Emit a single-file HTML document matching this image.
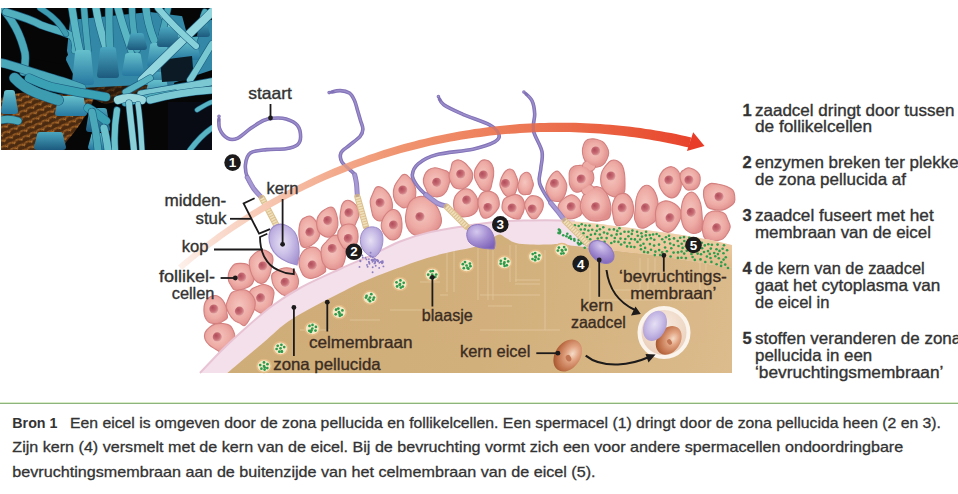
<!DOCTYPE html>
<html><head><meta charset="utf-8"><style>
html,body{margin:0;padding:0;background:#fff;}
body{width:958px;height:494px;position:relative;overflow:hidden;font-family:"Liberation Sans",sans-serif;}
</style></head><body>
<svg width="211" height="142" viewBox="1 8 211 142" style="position:absolute;left:1px;top:8px">
<defs><linearGradient id="hd" x1="0" y1="0" x2="0" y2="1"><stop offset="0" stop-color="#66c0cc"/><stop offset="1" stop-color="#2678a0"/></linearGradient><linearGradient id="hd2" x1="0" y1="0" x2="0" y2="1"><stop offset="0" stop-color="#4aa6be"/><stop offset="1" stop-color="#1c5a7e"/></linearGradient><pattern id="brtex" width="8" height="6" patternUnits="userSpaceOnUse" patternTransform="rotate(-25)"><rect width="8" height="6" fill="#4a2a10"/><path d="M0,4.5 C2,1.5 5,1.5 8,3.5" stroke="#b8742e" stroke-width="1.5" fill="none"/><path d="M0,1.5 C3,3 5,3.5 8,1" stroke="#7a4418" stroke-width="1" fill="none"/></pattern></defs>
<rect x="1" y="8" width="211" height="142" fill="#060606"/>
<path d="M80,84 C100,80 130,78 160,76 C175,78 178,86 170,92 C150,98 125,100 105,104 C95,100 85,96 80,84 Z" fill="url(#brtex)" opacity="0.5"/>
<path d="M1,98 C15,92 35,90 55,94 C70,96 85,94 95,96 C90,110 80,125 72,135 C66,142 63,146 62,150 L1,150 Z" fill="url(#brtex)"/>
<rect x="168" y="102" width="44" height="48" fill="#080b14"/>
<path d="M70,20 L150,12 L212,20 L212,70 L170,84 L120,86 L80,88 L66,60 Z" fill="#3288a6"/>
<path d="M22,20 L60,24 L68,55 L60,64 L30,58 Z" fill="#060606"/>
<path d="M3,9 C12,20 20,32 25,53 C26,60 25,66 23.5,72" fill="none" stroke-linecap="round" stroke="#1d5f80" stroke-width="8.2"/>
<path d="M3,9 C12,20 20,32 25,53 C26,60 25,66 23.5,72" fill="none" stroke-linecap="round" stroke="#4aa8b8" stroke-width="7"/>
<path d="M6,12 C20,16 32,20 41,25 C55,30 68,33 72,36 C76,40 76,45 75,50" fill="none" stroke-linecap="round" stroke="#1d5f80" stroke-width="8.2"/>
<path d="M6,12 C20,16 32,20 41,25 C55,30 68,33 72,36 C76,40 76,45 75,50" fill="none" stroke-linecap="round" stroke="#52b0be" stroke-width="7"/>
<path d="M40,8 C50,14 60,22 66,34" fill="none" stroke-linecap="round" stroke="#1d5f80" stroke-width="6.2"/>
<path d="M40,8 C50,14 60,22 66,34" fill="none" stroke-linecap="round" stroke="#3e9cb0" stroke-width="5"/>
<path d="M72,8 C74,20 76,35 80,52" fill="none" stroke-linecap="round" stroke="#1d5f80" stroke-width="8.2"/>
<path d="M72,8 C74,20 76,35 80,52" fill="none" stroke-linecap="round" stroke="#5ab6c2" stroke-width="7"/>
<path d="M84,8 C85,20 86,32 88,50" fill="none" stroke-linecap="round" stroke="#1d5f80" stroke-width="7.2"/>
<path d="M84,8 C85,20 86,32 88,50" fill="none" stroke-linecap="round" stroke="#4aa8b8" stroke-width="6"/>
<path d="M96,8 C98,22 102,35 106,48" fill="none" stroke-linecap="round" stroke="#1d5f80" stroke-width="8.2"/>
<path d="M96,8 C98,22 102,35 106,48" fill="none" stroke-linecap="round" stroke="#6cc2cc" stroke-width="7"/>
<path d="M109,8 C109,20 109,35 110,48" fill="none" stroke-linecap="round" stroke="#1d5f80" stroke-width="8.2"/>
<path d="M109,8 C109,20 109,35 110,48" fill="none" stroke-linecap="round" stroke="#4aa8b8" stroke-width="7"/>
<path d="M118,8 C121,20 126,35 132,52" fill="none" stroke-linecap="round" stroke="#1d5f80" stroke-width="8.2"/>
<path d="M118,8 C121,20 126,35 132,52" fill="none" stroke-linecap="round" stroke="#5ab6c2" stroke-width="7"/>
<path d="M132,8 C132,20 134,35 137,50" fill="none" stroke-linecap="round" stroke="#1d5f80" stroke-width="7.2"/>
<path d="M132,8 C132,20 134,35 137,50" fill="none" stroke-linecap="round" stroke="#4aa8b8" stroke-width="6"/>
<path d="M146,8 C147,20 150,30 154,40" fill="none" stroke-linecap="round" stroke="#1d5f80" stroke-width="8.2"/>
<path d="M146,8 C147,20 150,30 154,40" fill="none" stroke-linecap="round" stroke="#52b0be" stroke-width="7"/>
<path d="M158,8 C164,18 172,28 180,38" fill="none" stroke-linecap="round" stroke="#1d5f80" stroke-width="7.2"/>
<path d="M158,8 C164,18 172,28 180,38" fill="none" stroke-linecap="round" stroke="#6cc2cc" stroke-width="6"/>
<path d="M205,12 C200,25 196,35 192,45" fill="none" stroke-linecap="round" stroke="#1d5f80" stroke-width="7.2"/>
<path d="M205,12 C200,25 196,35 192,45" fill="none" stroke-linecap="round" stroke="#52b0be" stroke-width="6"/>
<path d="M168,8 C166,18 164,26 162,34" fill="none" stroke-linecap="round" stroke="#1d5f80" stroke-width="7.2"/>
<path d="M168,8 C166,18 164,26 162,34" fill="none" stroke-linecap="round" stroke="#4aa8b8" stroke-width="6"/>
<path d="M75,53 Q75,50 78,50 L88,50 Q91,50 91,53 L94,82 Q94,85 91,85 L75,85 Q72,85 72,82 Z" fill="url(#hd)"/>
<path d="M100,50 Q100,47 103,47 L113,47 Q116,47 116,50 L119,75 Q119,78 116,78 L100,78 Q97,78 97,75 Z" fill="url(#hd2)"/>
<path d="M125,56 Q125,53 128,53 L138,53 Q141,53 141,56 L144,73 Q144,76 141,76 L125,76 Q122,76 122,73 Z" fill="url(#hd)"/>
<path d="M130,36 Q130,33 133,33 L141,33 Q144,33 144,36 L147,47 Q147,50 144,50 L130,50 Q127,50 127,47 Z" fill="url(#hd2)"/>
<path d="M150,46 Q150,43 153,43 L164,43 Q167,43 167,46 L170,64 Q170,67 167,67 L150,67 Q147,67 147,64 Z" fill="url(#hd)"/>
<path d="M160,30 Q160,27 163,27 L174,27 Q177,27 177,30 L180,44 Q180,47 177,47 L160,47 Q157,47 157,44 Z" fill="url(#hd2)"/>
<path d="M176,43 Q176,40 179,40 L194,40 Q197,40 197,43 L200,57 Q200,60 197,60 L176,60 Q173,60 173,57 Z" fill="url(#hd)"/>
<path d="M190,23 Q190,20 193,20 L204,20 Q207,20 207,23 L210,34 Q210,37 207,37 L190,37 Q187,37 187,34 Z" fill="url(#hd2)"/>
<path d="M58,99 Q58,96 61,96 L81,96 Q84,96 84,99 L87,113 Q87,116 84,116 L58,116 Q55,116 55,113 Z" fill="url(#hd)"/>
<path d="M37,135 Q37,132 40,132 L60,132 Q63,132 63,135 L66,147 Q66,150 63,150 L37,150 Q34,150 34,147 Z" fill="url(#hd2)"/>
<path d="M4,93 Q4,90 7,90 L12,90 Q15,90 15,93 L18,111 Q18,114 15,114 L4,114 Q1,114 1,111 Z" fill="url(#hd)"/>
<path d="M153,75 Q153,72 156,72 L169,72 Q172,72 172,75 L175,87 Q175,90 172,90 L153,90 Q150,90 150,87 Z" fill="url(#hd2)"/>
<path d="M91,136 Q91,133 94,133 L100,133 Q103,133 103,136 L106,147 Q106,150 103,150 L91,150 Q88,150 88,147 Z" fill="url(#hd)"/>
<path d="M89,111 Q89,108 92,108 L104,108 Q107,108 107,111 L110,129 Q110,132 107,132 L89,132 Q86,132 86,129 Z" fill="url(#hd2)"/>
<path d="M148,83 Q148,80 151,80 L164,80 Q167,80 167,83 L170,97 Q170,100 167,100 L148,100 Q145,100 145,97 Z" fill="url(#hd)"/>
<path d="M180,8 L201,8 L197,36 L188,38 Z" fill="#060606"/>
<path d="M160,60 L192,56 L194,80 L162,82 Z" fill="#0c1a26"/>
<path d="M1,62.8 C12,65 25,70 31.4,72 C45,76 56,80 62.8,81.6 C70,84 76,86 81.6,88" fill="none" stroke-linecap="round" stroke="#1d5f80" stroke-width="9.2"/>
<path d="M1,62.8 C12,65 25,70 31.4,72 C45,76 56,80 62.8,81.6 C70,84 76,86 81.6,88" fill="none" stroke-linecap="round" stroke="#4aa8b8" stroke-width="8"/>
<path d="M14.6,78 C22,86 30,90 36.5,92.6 C45,96 52,98 58.3,100" fill="none" stroke-linecap="round" stroke="#1d5f80" stroke-width="11.2"/>
<path d="M14.6,78 C22,86 30,90 36.5,92.6 C45,96 52,98 58.3,100" fill="none" stroke-linecap="round" stroke="#3e9cb0" stroke-width="10"/>
<path d="M29,78 C38,82 45,85 51,86.7 C62,89 72,91 80,92.6 C90,94 98,95.5 106,97" fill="none" stroke-linecap="round" stroke="#1d5f80" stroke-width="9.2"/>
<path d="M29,78 C38,82 45,85 51,86.7 C62,89 72,91 80,92.6 C90,94 98,95.5 106,97" fill="none" stroke-linecap="round" stroke="#3aa0b4" stroke-width="8"/>
<path d="M88,108 C95,112 100,116 106,121" fill="none" stroke-linecap="round" stroke="#1d5f80" stroke-width="9.2"/>
<path d="M88,108 C95,112 100,116 106,121" fill="none" stroke-linecap="round" stroke="#3aa0b4" stroke-width="8"/>
<path d="M142,80 C160,62 185,38 212,12" fill="none" stroke-linecap="round" stroke="#1d5f80" stroke-width="9.2"/>
<path d="M142,80 C160,62 185,38 212,12" fill="none" stroke-linecap="round" stroke="#94d6de" stroke-width="8"/>
<path d="M158,8 C168,20 180,32 196,46" fill="none" stroke-linecap="round" stroke="#1d5f80" stroke-width="7.2"/>
<path d="M158,8 C168,20 180,32 196,46" fill="none" stroke-linecap="round" stroke="#86d0da" stroke-width="6"/>
<path d="M212,44 C205,55 198,68 190,80" fill="none" stroke-linecap="round" stroke="#1d5f80" stroke-width="7.2"/>
<path d="M212,44 C205,55 198,68 190,80" fill="none" stroke-linecap="round" stroke="#78c8d2" stroke-width="6"/>
<path d="M150,78 C140,84 132,88 125.6,92" fill="none" stroke-linecap="round" stroke="#1d5f80" stroke-width="7.2"/>
<path d="M150,78 C140,84 132,88 125.6,92" fill="none" stroke-linecap="round" stroke="#58b4c2" stroke-width="6"/>
<path d="M141,94 C165,90 190,86 212,81.6" fill="none" stroke-linecap="round" stroke="#1d5f80" stroke-width="8.2"/>
<path d="M141,94 C165,90 190,86 212,81.6" fill="none" stroke-linecap="round" stroke="#7cc8d2" stroke-width="7"/>
<path d="M125,103 C140,99 160,95 175,93" fill="none" stroke-linecap="round" stroke="#1d5f80" stroke-width="7.2"/>
<path d="M125,103 C140,99 160,95 175,93" fill="none" stroke-linecap="round" stroke="#52b0be" stroke-width="6"/>
<path d="M118,100 C125,97 135,97 142,100" fill="none" stroke-linecap="round" stroke="#1d5f80" stroke-width="9.2"/>
<path d="M118,100 C125,97 135,97 142,100" fill="none" stroke-linecap="round" stroke="#9ad8de" stroke-width="8"/>
<path d="M129,103 C130,115 132,130 134,150" fill="none" stroke-linecap="round" stroke="#1d5f80" stroke-width="7.2"/>
<path d="M129,103 C130,115 132,130 134,150" fill="none" stroke-linecap="round" stroke="#8ad0d8" stroke-width="6"/>
<path d="M138,104 C140,118 141,132 142,150" fill="none" stroke-linecap="round" stroke="#1d5f80" stroke-width="6.2"/>
<path d="M138,104 C140,118 141,132 142,150" fill="none" stroke-linecap="round" stroke="#8ad0d8" stroke-width="5"/>
<path d="M117,110 C115,122 114,136 115,150" fill="none" stroke-linecap="round" stroke="#1d5f80" stroke-width="7.2"/>
<path d="M117,110 C115,122 114,136 115,150" fill="none" stroke-linecap="round" stroke="#6cc2cc" stroke-width="6"/>
<path d="M1,120 C6,119 12,119 18,121" fill="none" stroke-linecap="round" stroke="#1d5f80" stroke-width="8.2"/>
<path d="M1,120 C6,119 12,119 18,121" fill="none" stroke-linecap="round" stroke="#4aa8b8" stroke-width="7"/>
<path d="M92,112 C95,125 97,138 98,150" fill="none" stroke-linecap="round" stroke="#1d5f80" stroke-width="8.2"/>
<path d="M92,112 C95,125 97,138 98,150" fill="none" stroke-linecap="round" stroke="#4aa8b8" stroke-width="7"/>
<path d="M104,128 C106,136 107,143 108,150" fill="none" stroke-linecap="round" stroke="#1d5f80" stroke-width="8.2"/>
<path d="M104,128 C106,136 107,143 108,150" fill="none" stroke-linecap="round" stroke="#6cc2cc" stroke-width="7"/>
<path d="M150,100 C165,96 185,92 212,90" fill="none" stroke-linecap="round" stroke="#1d5f80" stroke-width="8.2"/>
<path d="M150,100 C165,96 185,92 212,90" fill="none" stroke-linecap="round" stroke="#7cc8d2" stroke-width="7"/>
<path d="M190,150 C196,142 203,134 212,128" fill="none" stroke-linecap="round" stroke="#1d5f80" stroke-width="6.2"/>
<path d="M190,150 C196,142 203,134 212,128" fill="none" stroke-linecap="round" stroke="#58b4c2" stroke-width="5"/>
<path d="M197,110 C202,107 206,104 212,102" fill="none" stroke-linecap="round" stroke="#1d5f80" stroke-width="5.2"/>
<path d="M197,110 C202,107 206,104 212,102" fill="none" stroke-linecap="round" stroke="#58b4c2" stroke-width="4"/>
</svg>
<svg width="958" height="494" viewBox="0 0 958 494" style="position:absolute;left:0;top:0" font-family="Liberation Sans, sans-serif">
<defs>
<radialGradient id="cellg" cx="0.45" cy="0.45" r="0.6"><stop offset="0" stop-color="#f5c6bf"/><stop offset="0.6" stop-color="#eeaba5"/><stop offset="1" stop-color="#df8e8c"/></radialGradient>
<radialGradient id="nucg" cx="0.4" cy="0.4" r="0.7" fx="0.35" fy="0.35"><stop offset="0" stop-color="#b04c5c"/><stop offset="0.55" stop-color="#c86c74"/><stop offset="0.85" stop-color="#dc9a9a"/><stop offset="1" stop-color="#f0c0bc"/></radialGradient>
<linearGradient id="arrowg" x1="180" y1="0" x2="700" y2="0" gradientUnits="userSpaceOnUse"><stop offset="0" stop-color="#fdf0ea"/><stop offset="0.07" stop-color="#fadccf"/><stop offset="0.2" stop-color="#f6c0a8"/><stop offset="0.3" stop-color="#f3aa8c"/><stop offset="0.42" stop-color="#f09470"/><stop offset="0.58" stop-color="#ee825e"/><stop offset="0.75" stop-color="#eb6c4a"/><stop offset="0.88" stop-color="#e95638"/><stop offset="1" stop-color="#e8402a"/></linearGradient>
<linearGradient id="eggg" x1="250" y1="260" x2="730" y2="373" gradientUnits="userSpaceOnUse"><stop offset="0" stop-color="#cfad78"/><stop offset="0.5" stop-color="#d2b07c"/><stop offset="1" stop-color="#dcbb8c"/></linearGradient>
<radialGradient id="disc" cx="0.62" cy="0.62" r="0.65"><stop offset="0" stop-color="#f6dcc8"/><stop offset="0.35" stop-color="#e2a584"/><stop offset="0.8" stop-color="#c0714a"/><stop offset="1" stop-color="#a85a34"/></radialGradient>
<radialGradient id="fusg" cx="0.5" cy="0.35" r="0.7"><stop offset="0" stop-color="#f8ebe0"/><stop offset="1" stop-color="#e8cbb4"/></radialGradient>
<linearGradient id="bmg" x1="0" y1="220" x2="0" y2="268" gradientUnits="userSpaceOnUse"><stop offset="0" stop-color="#f2d6b2"/><stop offset="0.6" stop-color="#ebc89c"/><stop offset="1" stop-color="#ddbb8b"/></linearGradient>
<radialGradient id="headg" cx="0.45" cy="0.45" r="0.65"><stop offset="0" stop-color="#e6e0f4"/><stop offset="0.5" stop-color="#c8bce6"/><stop offset="1" stop-color="#a492d0"/></radialGradient>
<radialGradient id="headg2" cx="0.35" cy="0.3" r="0.8"><stop offset="0" stop-color="#d4c8ee"/><stop offset="0.5" stop-color="#a58fd2"/><stop offset="1" stop-color="#7d62b8"/></radialGradient>
<radialGradient id="eikern" cx="0.55" cy="0.55" r="0.6"><stop offset="0" stop-color="#f3c6a8"/><stop offset="0.35" stop-color="#d99370"/><stop offset="1" stop-color="#a8532e"/></radialGradient>
</defs>
<path d="M234.3,289.8 C232.9,289.0 232.3,287.5 231.3,285.9 C230.3,284.3 229.2,282.9 228.6,280.8 C228.1,278.7 228.0,276.5 228.4,274.3 C228.8,272.0 229.6,270.4 230.7,268.6 C231.9,266.7 233.0,265.0 234.8,264.1 C236.7,263.2 238.7,263.4 240.9,263.4 C243.1,263.4 245.2,263.4 247.1,264.3 C249.0,265.3 250.3,266.9 251.5,268.6 C252.8,270.4 253.6,272.0 254.0,274.0 C254.4,276.1 254.5,277.9 253.9,280.0 C253.3,282.1 252.4,284.0 250.7,285.5 C249.1,287.0 246.8,287.6 244.7,288.4 C242.6,289.2 241.0,289.7 239.1,290.0 C237.3,290.3 235.7,290.5 234.3,289.8Z" fill="url(#cellg)" stroke="#d3807f" stroke-width="1.1"/>
<path d="M272.0,255.0 C272.7,256.4 273.1,257.8 273.0,260.0 C272.9,262.2 272.1,264.5 271.5,267.3 C270.9,270.0 270.6,272.7 269.6,275.2 C268.5,277.8 267.4,280.0 265.8,281.5 C264.2,283.0 262.4,283.6 260.6,283.4 C258.7,283.2 257.0,282.2 255.5,280.6 C253.9,279.1 253.0,277.1 251.9,274.8 C250.9,272.5 250.2,270.4 249.8,267.7 C249.3,265.0 248.9,262.2 249.6,259.8 C250.3,257.4 252.0,255.9 253.6,254.4 C255.2,252.8 256.5,251.9 258.4,251.1 C260.3,250.3 262.3,249.8 264.2,250.0 C266.1,250.2 267.5,251.4 268.9,252.3 C270.3,253.2 271.3,253.6 272.0,255.0Z" fill="url(#cellg)" stroke="#d3807f" stroke-width="1.1"/>
<path d="M272.0,274.2 C272.6,272.9 273.9,272.5 275.4,271.6 C276.9,270.7 278.2,269.7 280.3,269.0 C282.4,268.3 284.6,267.7 286.9,267.8 C289.2,267.9 291.4,268.3 293.2,269.5 C294.9,270.7 295.6,272.6 296.6,274.6 C297.5,276.6 298.5,278.4 298.6,280.7 C298.7,282.9 298.2,285.1 297.2,287.2 C296.3,289.3 295.0,290.7 293.3,292.3 C291.7,293.8 290.1,295.3 288.1,295.7 C286.0,296.1 284.1,295.4 282.1,294.5 C280.1,293.5 278.8,292.1 277.2,290.4 C275.6,288.6 274.1,286.7 273.2,284.6 C272.2,282.5 272.0,280.6 271.8,278.7 C271.6,276.8 271.3,275.5 272.0,274.2Z" fill="url(#cellg)" stroke="#d3807f" stroke-width="1.1"/>
<path d="M272.1,288.2 C273.1,289.4 273.8,290.5 274.0,292.4 C274.2,294.4 273.5,296.4 273.1,298.8 C272.6,301.1 272.4,303.4 271.4,305.5 C270.5,307.7 269.3,309.4 267.6,310.8 C265.9,312.2 264.2,313.5 262.2,313.5 C260.2,313.5 258.5,312.1 256.7,311.0 C254.9,309.9 253.5,308.9 252.2,307.2 C250.8,305.5 249.9,303.8 249.2,301.7 C248.6,299.5 248.1,297.3 248.5,295.1 C248.9,292.8 249.8,290.8 251.3,289.3 C252.9,287.7 254.9,287.4 257.0,286.5 C259.2,285.7 261.0,284.6 263.1,284.5 C265.2,284.4 266.9,285.1 268.5,285.8 C270.1,286.5 271.1,287.0 272.1,288.2Z" fill="url(#cellg)" stroke="#d3807f" stroke-width="1.1"/>
<path d="M243.8,325.7 C242.4,325.8 241.4,324.1 239.7,323.1 C238.0,322.1 236.1,322.0 234.2,320.3 C232.2,318.6 230.4,316.3 229.0,313.8 C227.5,311.2 226.3,308.8 226.2,306.2 C226.1,303.5 227.2,301.7 228.2,299.2 C229.2,296.8 229.9,294.1 231.8,292.5 C233.6,290.9 236.1,290.7 238.6,290.2 C241.1,289.8 243.4,289.3 245.7,290.0 C248.0,290.7 249.9,292.4 251.6,294.4 C253.2,296.3 254.5,298.2 255.0,300.8 C255.5,303.5 255.2,306.3 254.4,309.1 C253.7,312.0 252.1,314.2 250.9,316.7 C249.6,319.1 248.6,321.1 247.3,322.8 C246.1,324.4 245.2,325.6 243.8,325.7Z" fill="url(#cellg)" stroke="#d3807f" stroke-width="1.1"/>
<path d="M227.3,317.8 C226.8,319.2 225.5,319.6 224.1,320.5 C222.7,321.4 221.5,322.4 219.7,323.0 C217.8,323.5 216.0,323.7 214.0,323.5 C212.0,323.3 210.2,323.2 208.6,322.1 C206.9,320.9 205.8,319.2 205.0,317.1 C204.2,315.0 203.9,312.8 203.9,310.3 C203.9,307.9 203.9,305.5 204.8,303.3 C205.6,301.1 206.9,299.4 208.5,298.0 C210.1,296.6 211.7,296.0 213.5,295.7 C215.3,295.4 216.8,295.5 218.5,296.4 C220.2,297.2 221.6,298.5 222.9,300.4 C224.3,302.2 225.3,304.5 226.0,306.8 C226.7,309.0 226.6,310.9 226.9,312.9 C227.1,314.8 227.8,316.4 227.3,317.8Z" fill="url(#cellg)" stroke="#d3807f" stroke-width="1.1"/>
<path d="M225.6,351.4 C224.1,352.0 223.0,352.8 221.1,352.4 C219.2,352.0 217.4,350.3 215.2,349.0 C213.0,347.6 210.9,346.7 209.1,344.9 C207.2,343.1 205.7,341.4 205.0,339.2 C204.3,337.0 204.2,334.8 205.0,332.7 C205.8,330.6 207.5,329.0 209.4,327.4 C211.3,325.8 213.1,324.6 215.6,323.9 C218.0,323.2 220.3,323.2 222.9,323.5 C225.5,323.8 228.0,324.1 229.9,325.5 C231.8,326.8 232.6,328.8 233.5,331.0 C234.4,333.1 235.1,335.0 235.0,337.4 C234.9,339.7 233.9,342.0 233.0,344.2 C232.0,346.3 230.9,348.0 229.6,349.3 C228.3,350.6 227.2,350.9 225.6,351.4Z" fill="url(#cellg)" stroke="#d3807f" stroke-width="1.1"/>
<path d="M301.2,245.4 C300.5,244.3 300.3,243.2 299.9,241.3 C299.5,239.4 299.0,237.6 298.9,235.0 C298.8,232.4 298.7,229.6 299.2,226.9 C299.6,224.2 300.3,221.7 301.5,220.0 C302.7,218.2 304.2,217.7 305.8,217.1 C307.4,216.4 309.0,215.7 310.7,216.2 C312.3,216.7 313.7,218.1 315.0,219.8 C316.3,221.5 317.0,223.3 317.9,225.5 C318.8,227.8 320.0,229.8 320.0,232.3 C320.0,234.7 319.2,237.1 318.1,239.1 C316.9,241.2 315.4,242.3 313.7,243.7 C312.1,245.0 310.4,246.1 308.7,246.7 C306.9,247.4 305.3,247.6 304.0,247.4 C302.6,247.2 301.9,246.5 301.2,245.4Z" fill="url(#cellg)" stroke="#d3807f" stroke-width="1.1"/>
<path d="M333.4,207.9 C334.5,208.8 335.1,210.3 335.8,212.1 C336.5,214.0 337.0,215.8 337.4,218.1 C337.8,220.5 338.2,222.9 337.9,225.3 C337.6,227.7 336.8,229.6 335.8,231.4 C334.8,233.3 333.7,234.6 332.2,235.7 C330.7,236.7 329.1,237.4 327.4,237.3 C325.7,237.2 324.2,236.4 322.6,235.3 C321.0,234.2 319.5,233.2 318.4,231.4 C317.4,229.5 316.9,227.3 316.7,225.0 C316.5,222.7 316.6,220.6 317.3,218.5 C317.9,216.4 319.0,214.7 320.4,213.1 C321.7,211.5 323.2,210.6 324.9,209.5 C326.5,208.5 327.9,207.6 329.5,207.3 C331.0,207.0 332.3,207.1 333.4,207.9Z" fill="url(#cellg)" stroke="#d3807f" stroke-width="1.1"/>
<path d="M358.5,210.6 C358.9,212.2 359.3,213.6 359.0,215.5 C358.7,217.4 357.6,219.2 356.6,221.3 C355.7,223.5 355.0,226.0 353.7,227.4 C352.4,228.9 351.1,229.2 349.6,229.5 C348.2,229.8 347.1,229.7 345.7,229.0 C344.3,228.3 342.9,227.5 341.9,225.7 C340.8,223.8 340.2,221.3 340.0,218.7 C339.8,216.2 340.3,213.9 340.6,211.4 C341.0,208.8 341.2,206.6 342.0,204.7 C342.9,202.8 344.0,201.5 345.4,200.8 C346.8,200.0 348.2,200.2 349.7,200.6 C351.2,201.0 352.5,202.1 353.8,203.1 C355.2,204.2 356.3,205.1 357.1,206.5 C358.0,207.9 358.2,209.0 358.5,210.6Z" fill="url(#cellg)" stroke="#d3807f" stroke-width="1.1"/>
<path d="M325.6,271.2 C325.0,272.8 323.4,273.3 321.8,274.4 C320.3,275.4 318.9,276.3 316.9,277.0 C314.8,277.8 312.8,278.6 310.6,278.5 C308.3,278.4 306.2,277.8 304.5,276.4 C302.7,274.9 301.9,272.9 300.9,270.5 C299.8,268.2 299.0,265.9 298.9,263.2 C298.8,260.5 299.4,258.0 300.5,255.6 C301.5,253.2 302.9,251.4 304.6,249.9 C306.3,248.4 308.1,247.8 310.1,247.4 C312.1,247.0 313.8,246.8 315.7,247.6 C317.6,248.4 319.2,249.9 320.6,252.0 C322.0,254.0 322.7,256.6 323.5,259.0 C324.2,261.5 324.6,263.3 325.0,265.5 C325.3,267.7 326.2,269.6 325.6,271.2Z" fill="url(#cellg)" stroke="#d3807f" stroke-width="1.1"/>
<path d="M340.7,235.4 C341.8,236.1 342.4,237.0 343.2,238.8 C344.0,240.7 344.8,242.8 345.3,245.6 C345.7,248.4 345.9,251.3 345.7,254.3 C345.5,257.3 345.1,259.6 344.2,262.1 C343.2,264.7 342.3,267.2 340.5,268.5 C338.8,269.8 336.6,269.6 334.4,269.6 C332.2,269.6 330.3,269.5 328.2,268.4 C326.2,267.2 324.4,265.6 323.1,263.2 C321.8,260.9 321.5,258.2 321.2,255.4 C320.9,252.5 320.7,250.0 321.6,247.5 C322.5,245.1 324.6,243.6 326.4,241.6 C328.2,239.5 329.8,237.4 331.7,236.2 C333.7,235.0 335.5,235.2 337.1,235.1 C338.7,235.0 339.6,234.7 340.7,235.4Z" fill="url(#cellg)" stroke="#d3807f" stroke-width="1.1"/>
<path d="M337.9,232.6 C338.2,231.1 338.8,230.2 339.8,228.9 C340.7,227.6 341.7,226.2 343.2,225.3 C344.7,224.4 346.4,224.1 348.1,224.0 C349.8,223.9 351.2,223.7 352.7,224.5 C354.2,225.2 355.3,226.3 356.3,228.0 C357.2,229.7 357.6,231.6 357.9,233.7 C358.2,235.9 358.2,237.9 357.8,240.0 C357.4,242.1 356.6,243.8 355.6,245.4 C354.6,247.0 353.5,248.2 352.1,248.9 C350.7,249.7 349.4,249.8 347.8,249.6 C346.3,249.4 344.8,249.1 343.3,247.8 C341.9,246.5 341.0,244.4 340.0,242.5 C339.0,240.6 338.3,238.9 337.9,237.1 C337.5,235.3 337.6,234.1 337.9,232.6Z" fill="url(#cellg)" stroke="#d3807f" stroke-width="1.1"/>
<path d="M392.4,207.8 C392.1,209.5 391.6,210.3 390.7,212.0 C389.9,213.7 389.1,215.8 387.6,217.3 C386.2,218.8 384.3,219.8 382.5,220.4 C380.6,221.0 379.0,221.3 377.3,220.6 C375.7,219.9 374.3,218.6 373.2,216.5 C372.1,214.4 371.9,211.9 371.3,209.1 C370.8,206.2 369.9,203.6 370.2,200.8 C370.5,198.0 371.8,195.9 372.9,193.5 C374.0,191.1 374.7,188.4 376.2,187.3 C377.7,186.2 379.4,186.6 381.2,187.2 C382.9,187.8 384.2,188.9 385.8,190.5 C387.4,192.1 388.9,193.9 390.0,196.1 C391.2,198.3 391.8,200.6 392.2,202.7 C392.6,204.8 392.7,206.1 392.4,207.8Z" fill="url(#cellg)" stroke="#d3807f" stroke-width="1.1"/>
<path d="M381.3,227.0 C381.1,225.4 381.2,224.3 381.6,222.4 C382.1,220.5 382.8,218.5 384.0,216.6 C385.2,214.7 386.6,212.9 388.2,211.6 C389.9,210.3 391.3,209.6 393.0,209.5 C394.7,209.4 396.1,209.7 397.5,211.0 C399.0,212.2 400.0,214.1 400.8,216.3 C401.6,218.6 401.9,220.9 402.0,223.6 C402.1,226.2 402.1,228.4 401.5,230.9 C401.0,233.3 400.3,235.4 399.1,237.0 C397.9,238.6 396.5,239.2 394.9,239.6 C393.3,240.0 391.8,240.2 390.1,239.5 C388.5,238.8 387.0,237.2 385.6,235.7 C384.2,234.2 383.3,232.7 382.5,231.1 C381.8,229.5 381.5,228.5 381.3,227.0Z" fill="url(#cellg)" stroke="#d3807f" stroke-width="1.1"/>
<path d="M405.8,174.5 C407.0,174.8 407.7,175.6 408.9,176.9 C410.1,178.1 411.3,179.2 412.5,181.3 C413.7,183.4 415.0,185.8 415.5,188.5 C416.1,191.1 415.9,193.5 415.6,196.1 C415.3,198.8 415.0,201.3 413.8,203.1 C412.6,204.9 410.7,205.2 408.9,206.1 C407.1,207.0 405.6,208.1 403.7,207.9 C401.9,207.7 400.4,206.5 398.7,205.1 C397.1,203.8 395.7,202.5 394.8,200.4 C393.8,198.3 393.3,196.1 393.3,193.5 C393.3,190.9 393.7,188.5 394.6,186.0 C395.6,183.5 397.1,181.8 398.5,179.8 C399.9,177.8 401.0,176.0 402.3,175.0 C403.7,174.1 404.7,174.2 405.8,174.5Z" fill="url(#cellg)" stroke="#d3807f" stroke-width="1.1"/>
<path d="M441.1,223.4 C440.6,225.3 440.2,226.6 438.5,228.2 C436.9,229.8 434.8,231.1 432.2,232.4 C429.6,233.7 427.1,235.0 424.1,235.5 C421.2,236.1 418.6,236.6 415.9,235.7 C413.2,234.8 411.0,233.2 409.1,230.6 C407.3,228.1 406.1,224.9 405.6,221.4 C405.1,217.9 405.6,214.6 406.4,211.0 C407.2,207.5 408.1,204.2 410.1,201.6 C412.0,199.1 414.6,197.8 417.2,197.0 C419.9,196.1 422.1,196.1 424.8,196.8 C427.5,197.5 429.9,198.4 432.4,200.6 C434.8,202.8 436.7,206.1 438.3,209.2 C439.9,212.3 440.7,215.0 441.2,217.6 C441.7,220.1 441.6,221.5 441.1,223.4Z" fill="url(#cellg)" stroke="#d3807f" stroke-width="1.1"/>
<path d="M449.5,174.0 C450.1,175.3 450.2,176.4 450.1,178.3 C450.0,180.2 449.7,182.1 449.0,184.4 C448.3,186.8 447.7,189.4 446.3,191.5 C444.9,193.6 443.2,195.1 441.2,196.1 C439.2,197.0 437.4,197.0 435.3,196.8 C433.2,196.6 431.0,196.4 429.3,194.9 C427.6,193.5 427.0,191.1 426.0,188.8 C424.9,186.5 423.7,184.8 423.4,182.3 C423.1,179.9 423.6,177.5 424.5,175.3 C425.4,173.1 426.6,171.3 428.4,170.0 C430.3,168.6 432.4,167.9 434.8,167.8 C437.1,167.7 439.2,168.7 441.3,169.3 C443.5,169.9 445.2,170.2 446.7,171.0 C448.1,171.8 448.9,172.7 449.5,174.0Z" fill="url(#cellg)" stroke="#d3807f" stroke-width="1.1"/>
<path d="M455.4,160.6 C456.5,160.1 457.4,159.7 458.9,160.0 C460.4,160.3 462.1,161.0 463.8,162.2 C465.6,163.4 467.0,165.0 468.5,166.8 C470.1,168.6 471.5,170.1 472.2,172.2 C472.9,174.3 472.9,176.5 472.4,178.6 C471.9,180.8 470.7,182.4 469.4,184.1 C468.0,185.7 466.7,187.0 464.9,187.9 C463.1,188.8 461.4,189.1 459.4,189.0 C457.5,188.9 455.7,188.4 454.1,187.2 C452.6,186.0 451.7,184.3 450.8,182.3 C449.9,180.3 449.0,178.3 449.0,175.9 C449.0,173.5 450.2,171.4 450.8,169.0 C451.4,166.6 451.5,164.3 452.3,162.8 C453.1,161.3 454.2,161.1 455.4,160.6Z" fill="url(#cellg)" stroke="#d3807f" stroke-width="1.1"/>
<path d="M455.9,214.2 C454.9,213.0 454.8,211.5 454.4,209.6 C454.0,207.7 453.4,206.0 453.5,203.6 C453.6,201.3 454.1,198.9 455.0,196.8 C456.0,194.6 457.3,193.2 458.9,191.8 C460.5,190.4 462.1,189.4 464.0,189.0 C466.0,188.6 468.0,188.7 469.9,189.5 C471.7,190.3 473.2,191.8 474.5,193.5 C475.9,195.2 476.8,196.8 477.4,198.9 C478.0,201.0 478.1,202.9 478.0,205.1 C477.9,207.3 477.8,209.4 476.7,211.2 C475.5,213.1 473.7,214.3 471.7,215.3 C469.6,216.3 467.6,216.6 465.4,216.8 C463.3,217.0 461.5,217.0 459.8,216.6 C458.1,216.1 456.9,215.5 455.9,214.2Z" fill="url(#cellg)" stroke="#d3807f" stroke-width="1.1"/>
<path d="M487.9,191.2 C486.8,191.6 486.0,191.3 484.7,190.8 C483.4,190.4 482.1,190.2 480.8,188.9 C479.4,187.5 478.5,185.6 477.3,183.6 C476.2,181.5 475.1,179.9 474.6,177.5 C474.1,175.2 474.2,172.8 474.7,170.5 C475.3,168.3 476.5,166.9 477.6,165.1 C478.8,163.4 479.7,161.6 481.2,160.7 C482.7,159.8 484.2,159.7 485.8,160.0 C487.4,160.3 488.9,160.7 490.2,162.1 C491.6,163.5 492.6,165.2 493.2,167.6 C493.8,169.9 493.8,172.5 493.6,175.1 C493.4,177.8 492.7,179.8 492.2,182.2 C491.6,184.7 491.4,187.1 490.6,188.7 C489.9,190.3 488.9,190.8 487.9,191.2Z" fill="url(#cellg)" stroke="#d3807f" stroke-width="1.1"/>
<path d="M483.5,217.9 C482.4,217.4 481.8,216.4 481.0,215.0 C480.3,213.5 479.9,211.8 479.3,209.7 C478.8,207.6 478.1,205.7 478.0,203.5 C477.9,201.3 478.2,199.3 478.9,197.4 C479.6,195.4 480.6,193.8 482.1,192.7 C483.5,191.6 485.2,191.3 487.0,191.2 C488.8,191.1 490.4,191.2 492.2,191.9 C493.9,192.6 495.5,193.5 496.7,195.1 C498.0,196.7 498.6,198.6 499.0,200.6 C499.4,202.7 499.5,204.6 499.0,206.5 C498.4,208.5 497.2,210.0 495.8,211.7 C494.4,213.3 493.0,214.5 491.4,215.7 C489.8,216.8 488.4,217.6 487.0,218.0 C485.5,218.4 484.5,218.5 483.5,217.9Z" fill="url(#cellg)" stroke="#d3807f" stroke-width="1.1"/>
<path d="M500.0,185.4 C499.8,183.8 500.1,182.4 500.5,180.6 C501.0,178.8 501.6,177.2 502.5,175.5 C503.5,173.7 504.4,172.2 505.7,171.0 C507.0,169.9 508.2,169.1 509.6,169.0 C511.0,168.9 512.2,169.4 513.4,170.6 C514.5,171.7 515.1,173.6 515.9,175.5 C516.7,177.4 517.6,179.1 517.8,181.3 C518.0,183.5 517.4,185.5 517.0,187.7 C516.5,189.9 516.1,191.7 515.2,193.3 C514.3,194.9 513.2,196.0 511.9,196.7 C510.6,197.3 509.3,197.3 507.9,196.8 C506.5,196.3 505.2,195.2 504.1,193.9 C503.0,192.7 502.4,191.2 501.6,189.7 C500.9,188.1 500.2,187.1 500.0,185.4Z" fill="url(#cellg)" stroke="#d3807f" stroke-width="1.1"/>
<path d="M518.5,189.5 C518.1,188.4 517.7,187.5 517.8,186.0 C517.9,184.5 518.6,183.0 519.1,181.3 C519.7,179.5 520.0,177.5 520.8,176.1 C521.7,174.6 522.7,173.8 523.8,173.1 C524.9,172.4 526.0,172.0 527.1,172.3 C528.3,172.6 529.4,173.3 530.3,174.5 C531.2,175.8 531.4,177.6 532.0,179.4 C532.5,181.2 533.4,182.7 533.4,184.5 C533.4,186.3 532.5,187.8 531.9,189.5 C531.3,191.2 531.1,193.0 530.1,193.9 C529.1,194.8 527.8,194.3 526.4,194.5 C525.1,194.6 523.9,195.0 522.7,194.6 C521.6,194.2 520.6,193.3 519.8,192.4 C519.1,191.5 518.8,190.7 518.5,189.5Z" fill="url(#cellg)" stroke="#d3807f" stroke-width="1.1"/>
<path d="M519.6,219.0 C518.7,219.5 517.6,219.2 516.1,219.0 C514.6,218.7 513.1,218.3 511.3,217.5 C509.5,216.6 507.7,215.7 506.1,214.4 C504.5,213.0 503.1,211.6 502.4,209.9 C501.7,208.1 501.9,206.5 502.2,204.6 C502.5,202.8 502.7,200.9 503.9,199.4 C505.0,197.9 506.9,197.4 508.7,196.5 C510.5,195.7 512.0,194.8 513.9,194.6 C515.8,194.4 517.7,194.7 519.4,195.6 C521.1,196.5 522.4,197.8 523.3,199.6 C524.3,201.3 524.5,203.3 524.5,205.4 C524.5,207.6 524.1,209.6 523.5,211.5 C523.0,213.4 522.1,214.6 521.4,215.9 C520.7,217.3 520.6,218.5 519.6,219.0Z" fill="url(#cellg)" stroke="#d3807f" stroke-width="1.1"/>
<path d="M534.0,219.0 C532.9,219.0 532.1,218.8 531.1,218.0 C530.0,217.2 529.1,215.9 528.2,214.4 C527.2,212.9 526.6,211.5 526.0,209.7 C525.3,207.9 524.4,206.3 524.5,204.5 C524.6,202.8 525.5,201.5 526.3,200.0 C527.2,198.6 528.1,197.2 529.5,196.4 C530.8,195.6 532.3,195.6 533.8,195.7 C535.4,195.8 536.6,196.1 538.0,196.8 C539.5,197.5 540.8,198.1 541.8,199.5 C542.7,200.8 543.3,202.5 543.4,204.3 C543.5,206.1 543.0,207.9 542.3,209.7 C541.6,211.5 540.7,212.8 539.7,214.3 C538.7,215.8 537.9,217.1 536.9,217.9 C535.8,218.8 535.0,219.0 534.0,219.0Z" fill="url(#cellg)" stroke="#d3807f" stroke-width="1.1"/>
<path d="M558.0,171.2 C559.2,171.6 560.0,173.2 561.2,174.6 C562.3,176.0 563.3,177.0 564.3,178.9 C565.3,180.8 566.5,182.8 566.8,185.1 C567.1,187.4 566.5,189.5 566.0,191.7 C565.4,193.9 564.9,195.6 563.8,197.3 C562.7,199.0 561.5,200.5 560.0,201.2 C558.4,201.9 556.8,201.6 555.1,201.3 C553.4,201.0 551.8,200.8 550.4,199.5 C549.0,198.2 548.4,196.3 547.5,194.2 C546.7,192.2 545.7,190.5 545.7,188.3 C545.7,186.1 546.5,184.0 547.4,181.8 C548.2,179.7 549.2,178.1 550.4,176.4 C551.6,174.7 552.7,173.3 554.0,172.4 C555.4,171.4 556.7,170.8 558.0,171.2Z" fill="url(#cellg)" stroke="#d3807f" stroke-width="1.1"/>
<path d="M571.9,194.8 C573.4,194.9 574.5,195.5 575.9,196.4 C577.3,197.4 578.4,198.6 579.5,200.2 C580.6,201.8 581.5,203.3 582.0,205.2 C582.5,207.1 582.7,208.6 582.4,210.5 C582.1,212.4 581.7,214.2 580.4,215.5 C579.1,216.9 577.2,217.4 575.2,218.0 C573.3,218.7 571.6,219.1 569.5,219.0 C567.4,218.9 565.3,218.7 563.6,217.7 C561.9,216.7 561.0,215.0 560.0,213.4 C559.0,211.7 558.1,210.4 558.0,208.5 C557.9,206.7 558.4,204.9 559.4,203.1 C560.4,201.4 561.9,200.1 563.5,198.9 C565.0,197.6 566.3,196.7 567.8,196.0 C569.3,195.3 570.5,194.7 571.9,194.8Z" fill="url(#cellg)" stroke="#d3807f" stroke-width="1.1"/>
<path d="M575.5,192.0 C574.2,191.6 573.1,190.9 572.1,189.5 C571.0,188.1 570.1,186.2 569.5,184.0 C569.0,181.8 569.2,179.7 569.2,177.3 C569.2,174.9 568.9,172.7 569.7,170.7 C570.6,168.7 572.1,167.2 573.9,166.2 C575.7,165.3 577.6,165.5 579.7,165.4 C581.8,165.3 583.6,164.9 585.6,165.6 C587.5,166.3 589.0,167.6 590.4,169.2 C591.9,170.9 593.0,172.5 593.5,174.6 C594.0,176.7 594.0,178.7 593.4,180.8 C592.7,182.8 591.4,184.5 589.8,186.1 C588.2,187.6 586.5,188.5 584.7,189.5 C582.8,190.5 581.4,191.2 579.8,191.6 C578.1,192.1 576.9,192.4 575.5,192.0Z" fill="url(#cellg)" stroke="#d3807f" stroke-width="1.1"/>
<path d="M586.0,140.6 C587.2,139.5 588.4,139.2 590.3,139.0 C592.1,138.8 594.0,138.7 596.2,139.2 C598.4,139.7 600.8,140.4 602.7,141.8 C604.6,143.1 605.8,144.8 606.8,146.8 C607.9,148.8 608.7,150.7 608.7,152.9 C608.7,155.1 607.9,156.9 607.0,159.0 C606.0,161.1 605.2,163.0 603.5,164.4 C601.9,165.9 599.9,166.6 597.8,167.0 C595.7,167.4 593.7,167.4 591.8,166.7 C589.8,166.0 588.3,164.9 586.9,163.3 C585.4,161.7 584.4,160.0 583.6,157.8 C582.8,155.5 582.4,153.1 582.4,150.8 C582.4,148.4 582.9,146.5 583.6,144.6 C584.2,142.8 584.8,141.6 586.0,140.6Z" fill="url(#cellg)" stroke="#d3807f" stroke-width="1.1"/>
<path d="M608.5,218.6 C607.2,219.8 605.4,219.7 603.3,220.1 C601.2,220.6 599.5,221.1 596.9,221.1 C594.4,221.1 591.6,221.2 589.2,220.1 C586.8,219.0 585.2,217.0 583.6,214.8 C582.0,212.7 580.8,210.6 580.4,208.0 C580.0,205.4 580.6,202.9 581.4,200.3 C582.1,197.6 583.0,195.5 584.7,193.3 C586.3,191.1 588.1,189.5 590.4,188.3 C592.7,187.1 595.1,186.4 597.7,186.7 C600.2,187.0 602.4,188.2 604.3,190.1 C606.2,192.0 607.2,194.5 608.3,197.3 C609.4,200.1 610.3,202.6 610.7,205.5 C611.1,208.3 611.1,210.8 610.7,213.2 C610.3,215.5 609.8,217.3 608.5,218.6Z" fill="url(#cellg)" stroke="#d3807f" stroke-width="1.1"/>
<path d="M622.2,194.9 C621.2,195.9 620.6,196.3 619.0,196.7 C617.4,197.0 615.6,197.4 613.4,196.8 C611.3,196.2 609.0,194.9 606.9,193.2 C604.9,191.4 603.3,189.7 602.1,187.3 C601.0,184.8 600.6,182.3 600.6,179.5 C600.6,176.7 601.0,174.1 602.0,171.6 C603.0,169.0 604.3,167.4 606.0,165.4 C607.7,163.4 609.2,161.2 611.2,160.4 C613.3,159.6 615.5,159.9 617.6,160.9 C619.6,161.9 621.3,163.5 622.5,165.9 C623.8,168.4 624.1,171.4 624.6,174.5 C625.0,177.7 625.0,180.5 625.0,183.5 C625.0,186.5 625.1,189.3 624.6,191.4 C624.1,193.4 623.2,194.0 622.2,194.9Z" fill="url(#cellg)" stroke="#d3807f" stroke-width="1.1"/>
<path d="M617.1,225.7 C616.0,225.1 615.2,224.0 614.5,222.1 C613.8,220.2 613.4,218.0 613.0,215.2 C612.6,212.5 612.0,209.8 612.2,207.0 C612.4,204.2 613.1,201.9 614.1,199.7 C615.0,197.5 616.1,196.0 617.6,194.9 C619.1,193.8 620.6,193.5 622.3,193.4 C624.1,193.3 625.7,193.5 627.3,194.5 C628.9,195.6 630.2,197.2 631.3,199.3 C632.4,201.4 633.1,203.6 633.4,206.2 C633.7,208.8 633.7,211.2 633.1,213.7 C632.5,216.2 631.3,218.1 629.8,220.0 C628.4,222.0 626.8,223.5 625.1,224.5 C623.5,225.4 622.1,225.1 620.6,225.3 C619.2,225.5 618.2,226.3 617.1,225.7Z" fill="url(#cellg)" stroke="#d3807f" stroke-width="1.1"/>
<path d="M636.4,223.3 C635.6,221.7 634.7,220.8 634.5,218.2 C634.3,215.5 634.9,212.3 635.2,208.6 C635.6,205.0 635.5,201.3 636.4,197.9 C637.2,194.5 638.4,192.0 640.0,189.8 C641.5,187.6 643.0,186.2 644.9,185.6 C646.8,185.0 648.7,185.3 650.6,186.6 C652.4,187.8 654.0,190.0 655.3,192.7 C656.6,195.5 657.5,198.4 657.9,201.8 C658.3,205.2 658.1,208.2 657.7,211.6 C657.3,214.9 657.0,217.9 655.7,220.3 C654.4,222.6 652.4,223.3 650.3,224.6 C648.3,226.0 646.5,227.4 644.5,227.9 C642.5,228.4 640.5,228.3 639.1,227.5 C637.6,226.6 637.2,225.0 636.4,223.3Z" fill="url(#cellg)" stroke="#d3807f" stroke-width="1.1"/>
<path d="M675.1,197.1 C673.8,197.8 672.7,198.2 671.1,197.9 C669.4,197.6 667.8,196.8 666.1,195.5 C664.5,194.2 663.1,192.7 661.9,190.7 C660.6,188.8 659.8,187.1 659.3,184.8 C658.8,182.6 658.6,180.5 659.0,178.3 C659.4,176.1 660.3,174.2 661.6,172.4 C662.8,170.6 664.2,169.3 666.0,168.3 C667.8,167.3 669.7,166.5 671.6,166.7 C673.5,166.9 675.2,168.0 676.8,169.4 C678.3,170.8 679.3,172.5 680.1,174.6 C680.9,176.7 681.1,178.7 681.2,181.2 C681.3,183.7 681.5,186.1 680.9,188.4 C680.4,190.7 679.3,192.4 678.3,193.9 C677.2,195.5 676.4,196.4 675.1,197.1Z" fill="url(#cellg)" stroke="#d3807f" stroke-width="1.1"/>
<path d="M681.2,172.0 C681.9,170.8 682.9,170.4 684.2,169.7 C685.4,168.9 686.6,167.9 688.1,167.8 C689.7,167.7 691.2,168.4 692.8,169.0 C694.3,169.7 695.4,170.2 696.7,171.3 C697.9,172.4 699.0,173.4 699.6,175.0 C700.2,176.7 700.4,178.4 700.2,180.3 C700.0,182.1 699.6,183.8 698.7,185.4 C697.8,187.0 696.6,188.2 695.2,189.0 C693.8,189.9 692.4,189.9 690.8,190.0 C689.3,190.1 687.8,190.4 686.5,189.6 C685.1,188.8 684.3,187.2 683.3,185.7 C682.3,184.1 681.4,182.8 680.8,181.0 C680.2,179.3 679.9,177.6 680.0,175.9 C680.1,174.3 680.4,173.1 681.2,172.0Z" fill="url(#cellg)" stroke="#d3807f" stroke-width="1.1"/>
<path d="M681.2,213.0 C681.4,215.0 681.0,216.7 680.3,218.8 C679.6,220.8 678.6,222.5 677.3,224.6 C676.0,226.7 674.8,228.8 672.9,230.2 C671.1,231.6 669.1,232.5 667.1,232.4 C665.1,232.3 663.6,231.1 661.7,229.9 C659.9,228.7 657.9,227.8 656.8,225.7 C655.7,223.7 655.9,221.0 655.7,218.3 C655.5,215.7 655.2,213.6 655.6,211.1 C656.0,208.5 656.6,206.1 658.0,204.3 C659.4,202.5 661.3,201.8 663.3,201.2 C665.2,200.6 667.0,200.8 669.0,201.2 C671.0,201.7 672.7,202.6 674.5,203.8 C676.3,205.0 677.9,206.1 679.1,207.8 C680.3,209.4 681.0,211.0 681.2,213.0Z" fill="url(#cellg)" stroke="#d3807f" stroke-width="1.1"/>
<path d="M701.5,229.9 C700.7,231.5 699.7,231.8 698.3,232.5 C696.9,233.1 695.4,233.6 693.6,233.5 C691.8,233.4 690.1,232.8 688.3,231.6 C686.5,230.5 684.9,229.3 683.7,226.9 C682.4,224.6 681.7,222.0 681.3,218.7 C680.8,215.5 680.8,212.4 681.2,208.9 C681.6,205.5 682.1,202.3 683.3,199.5 C684.4,196.8 685.9,194.9 687.6,193.6 C689.3,192.3 690.9,191.9 692.6,192.3 C694.3,192.7 695.7,194.0 697.1,196.0 C698.5,198.1 699.7,200.3 700.6,203.6 C701.5,206.8 701.7,210.6 702.0,214.1 C702.3,217.7 702.5,220.6 702.4,223.4 C702.3,226.3 702.2,228.2 701.5,229.9Z" fill="url(#cellg)" stroke="#d3807f" stroke-width="1.1"/>
<path d="M707.1,185.5 C708.5,184.5 709.3,183.6 711.4,183.4 C713.4,183.2 715.9,183.8 718.6,184.3 C721.2,184.8 723.7,185.3 726.2,186.3 C728.8,187.4 731.2,188.4 732.8,190.2 C734.3,191.9 734.4,193.9 734.7,196.1 C735.0,198.3 735.3,200.5 734.3,202.5 C733.2,204.6 731.1,206.0 728.9,207.3 C726.7,208.7 724.6,209.7 722.0,210.1 C719.5,210.5 717.2,210.1 714.7,209.6 C712.2,209.2 709.8,209.0 708.0,207.5 C706.2,206.0 705.7,203.6 704.9,201.3 C704.1,199.0 703.6,196.9 703.5,194.7 C703.4,192.4 703.4,190.4 704.1,188.7 C704.7,187.1 705.8,186.5 707.1,185.5Z" fill="url(#cellg)" stroke="#d3807f" stroke-width="1.1"/>
<path d="M706.0,239.5 C704.8,238.5 704.2,237.6 703.5,235.7 C702.9,233.8 702.4,231.7 702.4,229.1 C702.4,226.6 702.7,224.0 703.5,221.3 C704.2,218.7 704.9,216.4 706.5,214.6 C708.0,212.7 709.9,211.9 712.1,211.3 C714.2,210.7 716.2,210.8 718.5,211.2 C720.8,211.6 723.1,212.1 724.8,213.7 C726.6,215.3 727.0,217.9 728.0,220.3 C728.9,222.7 730.3,224.6 730.2,227.0 C730.1,229.4 728.7,231.3 727.4,233.4 C726.0,235.6 724.9,237.5 722.9,238.9 C720.8,240.2 718.2,240.4 715.9,240.8 C713.5,241.3 711.7,241.5 709.9,241.3 C708.1,241.1 707.1,240.5 706.0,239.5Z" fill="url(#cellg)" stroke="#d3807f" stroke-width="1.1"/>
<ellipse cx="589" cy="166" rx="7" ry="6" fill="#d3807f"/>
<ellipse cx="588" cy="190" rx="7" ry="6" fill="#d3807f"/>
<ellipse cx="589" cy="166" rx="6" ry="5" fill="#eeaba5"/>
<ellipse cx="588" cy="190" rx="6" ry="5" fill="#eeaba5"/>
<path d="M575.5,192.0 C574.2,191.6 573.1,190.9 572.1,189.5 C571.0,188.1 570.1,186.2 569.5,184.0 C569.0,181.8 569.2,179.7 569.2,177.3 C569.2,174.9 568.9,172.7 569.7,170.7 C570.6,168.7 572.1,167.2 573.9,166.2 C575.7,165.3 577.6,165.5 579.7,165.4 C581.8,165.3 583.6,164.9 585.6,165.6 C587.5,166.3 589.0,167.6 590.4,169.2 C591.9,170.9 593.0,172.5 593.5,174.6 C594.0,176.7 594.0,178.7 593.4,180.8 C592.7,182.8 591.4,184.5 589.8,186.1 C588.2,187.6 586.5,188.5 584.7,189.5 C582.8,190.5 581.4,191.2 579.8,191.6 C578.1,192.1 576.9,192.4 575.5,192.0Z" fill="url(#cellg)" transform="translate(581.4,178.7) scale(0.9) translate(-581.4,-178.7)"/>
<path d="M586.0,140.6 C587.2,139.5 588.4,139.2 590.3,139.0 C592.1,138.8 594.0,138.7 596.2,139.2 C598.4,139.7 600.8,140.4 602.7,141.8 C604.6,143.1 605.8,144.8 606.8,146.8 C607.9,148.8 608.7,150.7 608.7,152.9 C608.7,155.1 607.9,156.9 607.0,159.0 C606.0,161.1 605.2,163.0 603.5,164.4 C601.9,165.9 599.9,166.6 597.8,167.0 C595.7,167.4 593.7,167.4 591.8,166.7 C589.8,166.0 588.3,164.9 586.9,163.3 C585.4,161.7 584.4,160.0 583.6,157.8 C582.8,155.5 582.4,153.1 582.4,150.8 C582.4,148.4 582.9,146.5 583.6,144.6 C584.2,142.8 584.8,141.6 586.0,140.6Z" fill="url(#cellg)" transform="translate(595.5,153.0) scale(0.9) translate(-595.5,-153.0)"/>
<path d="M608.5,218.6 C607.2,219.8 605.4,219.7 603.3,220.1 C601.2,220.6 599.5,221.1 596.9,221.1 C594.4,221.1 591.6,221.2 589.2,220.1 C586.8,219.0 585.2,217.0 583.6,214.8 C582.0,212.7 580.8,210.6 580.4,208.0 C580.0,205.4 580.6,202.9 581.4,200.3 C582.1,197.6 583.0,195.5 584.7,193.3 C586.3,191.1 588.1,189.5 590.4,188.3 C592.7,187.1 595.1,186.4 597.7,186.7 C600.2,187.0 602.4,188.2 604.3,190.1 C606.2,192.0 607.2,194.5 608.3,197.3 C609.4,200.1 610.3,202.6 610.7,205.5 C611.1,208.3 611.1,210.8 610.7,213.2 C610.3,215.5 609.8,217.3 608.5,218.6Z" fill="url(#cellg)" transform="translate(595.5,203.9) scale(0.9) translate(-595.5,-203.9)"/>
<circle cx="241.8" cy="277.2" r="4.6" fill="url(#nucg)"/>
<circle cx="262.9" cy="266.0" r="4.6" fill="url(#nucg)"/>
<circle cx="285.2" cy="282.3" r="4.6" fill="url(#nucg)"/>
<circle cx="260.7" cy="297.9" r="4.6" fill="url(#nucg)"/>
<circle cx="239.5" cy="311.2" r="4.6" fill="url(#nucg)"/>
<circle cx="213.9" cy="309.0" r="4.6" fill="url(#nucg)"/>
<circle cx="217.3" cy="336.9" r="4.6" fill="url(#nucg)"/>
<circle cx="310.0" cy="232.2" r="4.6" fill="url(#nucg)"/>
<circle cx="327.9" cy="220.6" r="4.6" fill="url(#nucg)"/>
<circle cx="349.0" cy="212.8" r="4.6" fill="url(#nucg)"/>
<circle cx="312.3" cy="265.2" r="4.6" fill="url(#nucg)"/>
<circle cx="332.3" cy="248.5" r="4.6" fill="url(#nucg)"/>
<circle cx="348.4" cy="238.5" r="4.6" fill="url(#nucg)"/>
<circle cx="380.2" cy="202.8" r="4.6" fill="url(#nucg)"/>
<circle cx="393.6" cy="225.0" r="4.6" fill="url(#nucg)"/>
<circle cx="402.9" cy="190.1" r="4.6" fill="url(#nucg)"/>
<circle cx="420.0" cy="216.8" r="4.6" fill="url(#nucg)"/>
<circle cx="436.8" cy="182.3" r="4.6" fill="url(#nucg)"/>
<circle cx="460.8" cy="174.0" r="4.6" fill="url(#nucg)"/>
<circle cx="466.8" cy="200.1" r="4.6" fill="url(#nucg)"/>
<circle cx="483.5" cy="175.0" r="4.6" fill="url(#nucg)"/>
<circle cx="488.0" cy="207.5" r="4.6" fill="url(#nucg)"/>
<circle cx="505.6" cy="183.5" r="4.6" fill="url(#nucg)"/>
<circle cx="512.2" cy="208.0" r="4.6" fill="url(#nucg)"/>
<circle cx="532.3" cy="209.0" r="4.6" fill="url(#nucg)"/>
<circle cx="554.6" cy="183.5" r="4.6" fill="url(#nucg)"/>
<circle cx="571.3" cy="206.8" r="4.6" fill="url(#nucg)"/>
<circle cx="581.3" cy="179.0" r="4.6" fill="url(#nucg)"/>
<circle cx="595.8" cy="151.0" r="4.6" fill="url(#nucg)"/>
<circle cx="595.8" cy="206.8" r="4.6" fill="url(#nucg)"/>
<circle cx="611.0" cy="176.0" r="4.6" fill="url(#nucg)"/>
<circle cx="622.3" cy="207.9" r="4.6" fill="url(#nucg)"/>
<circle cx="645.6" cy="207.9" r="4.6" fill="url(#nucg)"/>
<circle cx="669.0" cy="180.0" r="4.6" fill="url(#nucg)"/>
<circle cx="689.0" cy="180.0" r="4.6" fill="url(#nucg)"/>
<circle cx="670.1" cy="217.9" r="4.6" fill="url(#nucg)"/>
<circle cx="691.3" cy="212.3" r="4.6" fill="url(#nucg)"/>
<circle cx="719.1" cy="196.8" r="4.6" fill="url(#nucg)"/>
<circle cx="716.8" cy="227.9" r="4.6" fill="url(#nucg)"/>
<path d="M219.0,116.3 C219.1,118.3 218.2,124.9 219.6,128.6 C221.0,132.3 224.7,136.7 227.7,138.3 C230.7,139.9 233.6,139.9 237.4,138.3 C241.2,136.7 246.1,131.6 250.4,128.6 C254.7,125.6 259.6,122.2 263.4,120.5 C267.2,118.8 269.3,118.5 273.1,118.2 C276.9,117.9 281.9,117.7 286.0,118.9 C290.1,120.1 295.0,122.3 297.4,125.3 C299.8,128.3 300.6,133.4 300.6,136.7 C300.6,139.9 299.8,142.8 297.4,144.8 C295.0,146.8 291.1,147.9 286.0,148.7 C280.9,149.5 272.5,148.9 266.6,149.6 C260.7,150.3 253.9,150.5 250.4,152.9 C246.9,155.3 246.0,160.1 245.5,164.2 C245.0,168.2 245.8,173.1 247.2,177.2 C248.5,181.2 251.1,185.0 253.6,188.5 C256.1,192.0 260.6,196.4 262.0,198.0" fill="none" stroke="#8a7abc" stroke-width="3.6" stroke-linecap="round" stroke-dasharray="0 3 2000" />
<path d="M219.0,116.3 C219.1,118.3 218.2,124.9 219.6,128.6 C221.0,132.3 224.7,136.7 227.7,138.3 C230.7,139.9 233.6,139.9 237.4,138.3 C241.2,136.7 246.1,131.6 250.4,128.6 C254.7,125.6 259.6,122.2 263.4,120.5 C267.2,118.8 269.3,118.5 273.1,118.2 C276.9,117.9 281.9,117.7 286.0,118.9 C290.1,120.1 295.0,122.3 297.4,125.3 C299.8,128.3 300.6,133.4 300.6,136.7 C300.6,139.9 299.8,142.8 297.4,144.8 C295.0,146.8 291.1,147.9 286.0,148.7 C280.9,149.5 272.5,148.9 266.6,149.6 C260.7,150.3 253.9,150.5 250.4,152.9 C246.9,155.3 246.0,160.1 245.5,164.2 C245.0,168.2 245.8,173.1 247.2,177.2 C248.5,181.2 251.1,185.0 253.6,188.5 C256.1,192.0 260.6,196.4 262.0,198.0" fill="none" stroke="#8a7abc" stroke-width="1.8" stroke-linecap="round"/>
<path d="M219.0,116.3 C219.1,118.3 218.2,124.9 219.6,128.6 C221.0,132.3 224.7,136.7 227.7,138.3 C230.7,139.9 233.6,139.9 237.4,138.3 C241.2,136.7 246.1,131.6 250.4,128.6 C254.7,125.6 259.6,122.2 263.4,120.5 C267.2,118.8 269.3,118.5 273.1,118.2 C276.9,117.9 281.9,117.7 286.0,118.9 C290.1,120.1 295.0,122.3 297.4,125.3 C299.8,128.3 300.6,133.4 300.6,136.7 C300.6,139.9 299.8,142.8 297.4,144.8 C295.0,146.8 291.1,147.9 286.0,148.7 C280.9,149.5 272.5,148.9 266.6,149.6 C260.7,150.3 253.9,150.5 250.4,152.9 C246.9,155.3 246.0,160.1 245.5,164.2 C245.0,168.2 245.8,173.1 247.2,177.2 C248.5,181.2 251.1,185.0 253.6,188.5 C256.1,192.0 260.6,196.4 262.0,198.0" fill="none" stroke="#ab9dd6" stroke-width="1.5" stroke-linecap="round" stroke-dasharray="0 6 2000"/>
<path d="M247.2,177.2 C248.3,179.1 251.1,185.0 253.6,188.5 C256.1,192.0 260.6,196.4 262.0,198.0" fill="none" stroke="#9282c2" stroke-width="5" stroke-linecap="round"/>
<path d="M247.2,177.2 C248.3,179.1 251.1,185.0 253.6,188.5 C256.1,192.0 260.6,196.4 262.0,198.0" fill="none" stroke="#b8abe0" stroke-width="3" stroke-linecap="round"/>
<path d="M329.1,92.6 C331.0,92.3 336.8,90.5 340.2,90.6 C343.6,90.7 347.0,91.5 349.4,93.1 C351.8,94.7 353.0,97.3 354.4,100.2 C355.8,103.1 356.5,106.9 357.5,110.3 C358.5,113.7 359.6,117.3 360.5,120.4 C361.4,123.5 363.0,126.4 362.9,129.1 C362.8,131.8 362.4,133.7 360.1,136.4 C357.8,139.1 352.4,142.8 349.2,145.5 C346.0,148.2 342.2,150.1 341.0,152.8 C339.8,155.6 340.5,159.3 341.9,162.0 C343.3,164.7 347.1,167.1 349.2,169.2 C351.3,171.3 353.5,172.3 354.7,174.7 C355.9,177.1 356.1,180.1 356.5,183.8 C356.9,187.5 357.2,194.8 357.4,197.0" fill="none" stroke="#8a7abc" stroke-width="3.6" stroke-linecap="round" stroke-dasharray="0 3 2000" />
<path d="M329.1,92.6 C331.0,92.3 336.8,90.5 340.2,90.6 C343.6,90.7 347.0,91.5 349.4,93.1 C351.8,94.7 353.0,97.3 354.4,100.2 C355.8,103.1 356.5,106.9 357.5,110.3 C358.5,113.7 359.6,117.3 360.5,120.4 C361.4,123.5 363.0,126.4 362.9,129.1 C362.8,131.8 362.4,133.7 360.1,136.4 C357.8,139.1 352.4,142.8 349.2,145.5 C346.0,148.2 342.2,150.1 341.0,152.8 C339.8,155.6 340.5,159.3 341.9,162.0 C343.3,164.7 347.1,167.1 349.2,169.2 C351.3,171.3 353.5,172.3 354.7,174.7 C355.9,177.1 356.1,180.1 356.5,183.8 C356.9,187.5 357.2,194.8 357.4,197.0" fill="none" stroke="#8a7abc" stroke-width="1.8" stroke-linecap="round"/>
<path d="M329.1,92.6 C331.0,92.3 336.8,90.5 340.2,90.6 C343.6,90.7 347.0,91.5 349.4,93.1 C351.8,94.7 353.0,97.3 354.4,100.2 C355.8,103.1 356.5,106.9 357.5,110.3 C358.5,113.7 359.6,117.3 360.5,120.4 C361.4,123.5 363.0,126.4 362.9,129.1 C362.8,131.8 362.4,133.7 360.1,136.4 C357.8,139.1 352.4,142.8 349.2,145.5 C346.0,148.2 342.2,150.1 341.0,152.8 C339.8,155.6 340.5,159.3 341.9,162.0 C343.3,164.7 347.1,167.1 349.2,169.2 C351.3,171.3 353.5,172.3 354.7,174.7 C355.9,177.1 356.1,180.1 356.5,183.8 C356.9,187.5 357.2,194.8 357.4,197.0" fill="none" stroke="#ab9dd6" stroke-width="1.5" stroke-linecap="round" stroke-dasharray="0 6 2000"/>
<path d="M354.7,174.7 C355.0,176.2 356.1,180.1 356.5,183.8 C356.9,187.5 357.2,194.8 357.4,197.0" fill="none" stroke="#9282c2" stroke-width="5" stroke-linecap="round"/>
<path d="M354.7,174.7 C355.0,176.2 356.1,180.1 356.5,183.8 C356.9,187.5 357.2,194.8 357.4,197.0" fill="none" stroke="#b8abe0" stroke-width="3" stroke-linecap="round"/>
<path d="M438.4,96.6 C439.3,98.0 439.7,101.8 443.8,104.8 C447.9,107.8 455.1,110.9 462.8,114.3 C470.5,117.7 484.0,121.7 490.0,125.1 C496.0,128.5 498.2,131.8 499.0,134.6 C499.8,137.4 499.1,139.5 494.7,141.9 C490.3,144.3 482.6,147.1 472.9,149.2 C463.2,151.3 445.5,152.3 436.4,154.7 C427.3,157.1 422.2,160.4 418.2,163.8 C414.2,167.2 412.6,171.5 412.3,175.0 C412.1,178.5 414.5,181.8 416.7,185.0 C418.9,188.2 422.1,191.4 425.6,194.5 C429.1,197.6 434.5,201.6 437.9,203.5 C441.3,205.4 444.6,205.6 446.0,206.0" fill="none" stroke="#8a7abc" stroke-width="3.6" stroke-linecap="round" stroke-dasharray="0 3 2000" />
<path d="M438.4,96.6 C439.3,98.0 439.7,101.8 443.8,104.8 C447.9,107.8 455.1,110.9 462.8,114.3 C470.5,117.7 484.0,121.7 490.0,125.1 C496.0,128.5 498.2,131.8 499.0,134.6 C499.8,137.4 499.1,139.5 494.7,141.9 C490.3,144.3 482.6,147.1 472.9,149.2 C463.2,151.3 445.5,152.3 436.4,154.7 C427.3,157.1 422.2,160.4 418.2,163.8 C414.2,167.2 412.6,171.5 412.3,175.0 C412.1,178.5 414.5,181.8 416.7,185.0 C418.9,188.2 422.1,191.4 425.6,194.5 C429.1,197.6 434.5,201.6 437.9,203.5 C441.3,205.4 444.6,205.6 446.0,206.0" fill="none" stroke="#8a7abc" stroke-width="1.8" stroke-linecap="round"/>
<path d="M438.4,96.6 C439.3,98.0 439.7,101.8 443.8,104.8 C447.9,107.8 455.1,110.9 462.8,114.3 C470.5,117.7 484.0,121.7 490.0,125.1 C496.0,128.5 498.2,131.8 499.0,134.6 C499.8,137.4 499.1,139.5 494.7,141.9 C490.3,144.3 482.6,147.1 472.9,149.2 C463.2,151.3 445.5,152.3 436.4,154.7 C427.3,157.1 422.2,160.4 418.2,163.8 C414.2,167.2 412.6,171.5 412.3,175.0 C412.1,178.5 414.5,181.8 416.7,185.0 C418.9,188.2 422.1,191.4 425.6,194.5 C429.1,197.6 434.5,201.6 437.9,203.5 C441.3,205.4 444.6,205.6 446.0,206.0" fill="none" stroke="#ab9dd6" stroke-width="1.5" stroke-linecap="round" stroke-dasharray="0 6 2000"/>
<path d="M425.6,194.5 C427.7,196.0 434.5,201.6 437.9,203.5 C441.3,205.4 444.6,205.6 446.0,206.0" fill="none" stroke="#9282c2" stroke-width="5" stroke-linecap="round"/>
<path d="M425.6,194.5 C427.7,196.0 434.5,201.6 437.9,203.5 C441.3,205.4 444.6,205.6 446.0,206.0" fill="none" stroke="#b8abe0" stroke-width="3" stroke-linecap="round"/>
<path d="M523.9,92.0 C525.2,93.5 530.2,97.0 532.0,100.7 C533.8,104.4 534.5,109.3 534.7,114.3 C534.9,119.3 532.2,124.4 533.4,130.6 C534.6,136.8 540.8,145.3 542.0,151.6 C543.2,157.9 541.2,163.3 540.8,168.6 C540.4,173.9 538.0,177.5 539.6,183.2 C541.2,188.9 547.3,197.6 550.5,202.6 C553.7,207.6 556.6,209.9 559.0,213.0 C561.4,216.1 564.0,219.7 565.0,221.0" fill="none" stroke="#8a7abc" stroke-width="3.6" stroke-linecap="round" stroke-dasharray="0 3 2000" />
<path d="M523.9,92.0 C525.2,93.5 530.2,97.0 532.0,100.7 C533.8,104.4 534.5,109.3 534.7,114.3 C534.9,119.3 532.2,124.4 533.4,130.6 C534.6,136.8 540.8,145.3 542.0,151.6 C543.2,157.9 541.2,163.3 540.8,168.6 C540.4,173.9 538.0,177.5 539.6,183.2 C541.2,188.9 547.3,197.6 550.5,202.6 C553.7,207.6 556.6,209.9 559.0,213.0 C561.4,216.1 564.0,219.7 565.0,221.0" fill="none" stroke="#8a7abc" stroke-width="1.8" stroke-linecap="round"/>
<path d="M523.9,92.0 C525.2,93.5 530.2,97.0 532.0,100.7 C533.8,104.4 534.5,109.3 534.7,114.3 C534.9,119.3 532.2,124.4 533.4,130.6 C534.6,136.8 540.8,145.3 542.0,151.6 C543.2,157.9 541.2,163.3 540.8,168.6 C540.4,173.9 538.0,177.5 539.6,183.2 C541.2,188.9 547.3,197.6 550.5,202.6 C553.7,207.6 556.6,209.9 559.0,213.0 C561.4,216.1 564.0,219.7 565.0,221.0" fill="none" stroke="#ab9dd6" stroke-width="1.5" stroke-linecap="round" stroke-dasharray="0 6 2000"/>
<path d="M550.5,202.6 C551.9,204.3 556.6,209.9 559.0,213.0 C561.4,216.1 564.0,219.7 565.0,221.0" fill="none" stroke="#9282c2" stroke-width="5" stroke-linecap="round"/>
<path d="M550.5,202.6 C551.9,204.3 556.6,209.9 559.0,213.0 C561.4,216.1 564.0,219.7 565.0,221.0" fill="none" stroke="#b8abe0" stroke-width="3" stroke-linecap="round"/>
<path d="M200.0,373.0 C203.7,369.2 214.6,357.3 222.0,350.0 C229.4,342.7 236.3,336.3 244.6,329.0 C252.9,321.7 262.8,312.8 272.0,306.0 C281.2,299.2 288.7,294.2 300.0,288.0 C311.3,281.8 328.0,274.5 340.0,269.0 C352.0,263.5 362.0,259.6 372.0,255.0 C382.0,250.4 390.7,245.2 400.0,241.5 C409.3,237.8 417.3,235.2 428.0,232.6 C438.7,230.0 452.0,228.0 464.0,226.2 C476.0,224.3 489.0,222.4 500.0,221.5 C511.0,220.6 520.0,220.7 530.0,220.5 C540.0,220.3 552.5,220.3 560.0,220.5 C567.5,220.7 568.3,220.9 575.0,221.5 C581.7,222.1 585.8,222.2 600.0,224.0 C614.2,225.8 643.3,229.7 660.0,232.0 C676.7,234.3 688.0,235.8 700.0,238.0 C712.0,240.2 726.7,243.8 732.0,245.0 L732,373 Z" fill="#f3e0ea"/>
<path d="M200.0,373.0 C203.7,369.2 214.6,357.3 222.0,350.0 C229.4,342.7 236.3,336.3 244.6,329.0 C252.9,321.7 262.8,312.8 272.0,306.0 C281.2,299.2 288.7,294.2 300.0,288.0 C311.3,281.8 328.0,274.5 340.0,269.0 C352.0,263.5 362.0,259.6 372.0,255.0 C382.0,250.4 390.7,245.2 400.0,241.5 C409.3,237.8 417.3,235.2 428.0,232.6 C438.7,230.0 452.0,228.0 464.0,226.2 C476.0,224.3 489.0,222.4 500.0,221.5 C511.0,220.6 520.0,220.7 530.0,220.5 C540.0,220.3 552.5,220.3 560.0,220.5 C567.5,220.7 572.5,221.3 575.0,221.5" fill="none" stroke="#e8c3d3" stroke-width="2"/>
<path d="M227.3,373.0 C233.2,368.0 252.1,352.0 262.9,343.0 C273.7,334.0 279.1,327.3 292.0,319.0 C304.9,310.7 326.7,299.8 340.0,293.0 C353.3,286.2 358.5,283.5 372.0,278.0 C385.5,272.5 408.0,264.3 421.0,260.0 C434.0,255.7 441.8,254.0 450.0,252.0 C458.2,250.0 464.2,249.3 470.0,248.0 C475.8,246.7 481.0,245.8 485.0,244.0 C489.0,242.2 491.5,238.6 494.0,237.0 C496.5,235.4 498.0,234.3 500.0,234.5 C502.0,234.7 503.3,236.6 506.0,238.0 C508.7,239.4 512.0,241.9 516.0,243.0 C520.0,244.1 524.7,244.2 530.0,244.5 C535.3,244.8 543.0,244.6 548.0,244.5 C553.0,244.4 555.5,243.8 560.0,244.0 C564.5,244.2 568.3,245.2 575.0,246.0 C581.7,246.8 585.8,247.3 600.0,249.0 C614.2,250.7 638.0,252.8 660.0,256.0 C682.0,259.2 720.0,266.0 732.0,268.0 L732,373 Z" fill="url(#eggg)"/>
<clipPath id="eggclip"><path d="M227.3,373.0 C233.2,368.0 252.1,352.0 262.9,343.0 C273.7,334.0 279.1,327.3 292.0,319.0 C304.9,310.7 326.7,299.8 340.0,293.0 C353.3,286.2 358.5,283.5 372.0,278.0 C385.5,272.5 408.0,264.3 421.0,260.0 C434.0,255.7 441.8,254.0 450.0,252.0 C458.2,250.0 464.2,249.3 470.0,248.0 C475.8,246.7 481.0,245.8 485.0,244.0 C489.0,242.2 491.5,238.6 494.0,237.0 C496.5,235.4 498.0,234.3 500.0,234.5 C502.0,234.7 503.3,236.6 506.0,238.0 C508.7,239.4 512.0,241.9 516.0,243.0 C520.0,244.1 524.7,244.2 530.0,244.5 C535.3,244.8 543.0,244.6 548.0,244.5 C553.0,244.4 555.5,243.8 560.0,244.0 C564.5,244.2 568.3,245.2 575.0,246.0 C581.7,246.8 585.8,247.3 600.0,249.0 C614.2,250.7 638.0,252.8 660.0,256.0 C682.0,259.2 720.0,266.0 732.0,268.0 L732,373 Z"/></clipPath>
<g clip-path="url(#eggclip)" stroke="#ecd6b0" stroke-width="0.9" opacity="0.55"><line x1="447" y1="250" x2="447" y2="292"/><line x1="454" y1="250" x2="454" y2="292"/><line x1="478" y1="248" x2="478" y2="300"/><line x1="488" y1="245" x2="488" y2="300"/><line x1="493" y1="245" x2="493" y2="300"/><line x1="510" y1="245" x2="510" y2="282"/><line x1="516" y1="245" x2="516" y2="282"/><line x1="545" y1="250" x2="545" y2="330"/><line x1="590" y1="268" x2="590" y2="300"/><line x1="640" y1="258" x2="640" y2="300"/><line x1="648" y1="258" x2="648" y2="300"/><line x1="655" y1="258" x2="655" y2="285"/><line x1="700" y1="262" x2="700" y2="300"/><line x1="706" y1="262" x2="706" y2="300"/><line x1="440" y1="295" x2="448" y2="295"/><line x1="480" y1="295" x2="540" y2="295"/><line x1="488" y1="306" x2="512" y2="306"/><line x1="515" y1="280" x2="540" y2="280"/><line x1="515" y1="284" x2="540" y2="284"/><line x1="390" y1="310" x2="430" y2="310"/><line x1="480" y1="330" x2="560" y2="330"/><line x1="330" y1="342" x2="400" y2="342"/><line x1="600" y1="300" x2="700" y2="300"/><line x1="610" y1="290" x2="640" y2="290"/><line x1="300" y1="330" x2="330" y2="330"/><line x1="350" y1="320" x2="380" y2="320"/><line x1="420" y1="282" x2="440" y2="282"/></g>
<path d="M565.0,221.2 C566.7,221.2 569.2,221.0 575.0,221.5 C580.8,222.0 585.8,222.2 600.0,224.0 C614.2,225.8 643.3,229.7 660.0,232.0 C676.7,234.3 688.0,235.8 700.0,238.0 C712.0,240.2 726.7,243.8 732.0,245.0 L732,268 L660,256 L600,249 L590,248 Z" fill="url(#bmg)"/>
<circle cx="666.9" cy="251.2" r="1.3" fill="#2f9d4e"/>
<circle cx="694.8" cy="259.9" r="1.3" fill="#2f9d4e"/>
<circle cx="685.9" cy="258.1" r="1.3" fill="#2f9d4e"/>
<circle cx="718.8" cy="258.2" r="1.3" fill="#2f9d4e"/>
<circle cx="711.9" cy="244.7" r="1.3" fill="#2f9d4e"/>
<circle cx="642.0" cy="236.6" r="1.3" fill="#2f9d4e"/>
<circle cx="654.1" cy="245.6" r="1.3" fill="#2f9d4e"/>
<circle cx="611.3" cy="243.0" r="1.3" fill="#2f9d4e"/>
<circle cx="690.0" cy="241.6" r="1.3" fill="#2f9d4e"/>
<circle cx="695.1" cy="241.9" r="1.3" fill="#2f9d4e"/>
<circle cx="666.0" cy="237.3" r="1.3" fill="#2f9d4e"/>
<circle cx="599.9" cy="229.3" r="1.3" fill="#2f9d4e"/>
<circle cx="725.2" cy="264.6" r="1.3" fill="#2f9d4e"/>
<circle cx="599.2" cy="241.9" r="1.3" fill="#2f9d4e"/>
<circle cx="677.9" cy="257.9" r="1.3" fill="#2f9d4e"/>
<circle cx="710.8" cy="248.6" r="1.3" fill="#2f9d4e"/>
<circle cx="624.5" cy="231.7" r="1.3" fill="#2f9d4e"/>
<circle cx="589.6" cy="225.6" r="1.3" fill="#2f9d4e"/>
<circle cx="614.8" cy="238.0" r="1.3" fill="#2f9d4e"/>
<circle cx="620.7" cy="233.7" r="1.3" fill="#2f9d4e"/>
<circle cx="698.6" cy="250.1" r="1.3" fill="#2f9d4e"/>
<circle cx="680.2" cy="237.8" r="1.3" fill="#2f9d4e"/>
<circle cx="724.0" cy="245.3" r="1.3" fill="#2f9d4e"/>
<circle cx="625.3" cy="239.0" r="1.3" fill="#2f9d4e"/>
<circle cx="567.5" cy="223.3" r="1.3" fill="#2f9d4e"/>
<circle cx="595.3" cy="241.7" r="1.3" fill="#2f9d4e"/>
<circle cx="597.8" cy="238.5" r="1.3" fill="#2f9d4e"/>
<circle cx="716.6" cy="264.3" r="1.3" fill="#2f9d4e"/>
<circle cx="651.0" cy="249.8" r="1.3" fill="#2f9d4e"/>
<circle cx="583.5" cy="236.9" r="1.3" fill="#2f9d4e"/>
<circle cx="580.8" cy="229.5" r="1.3" fill="#2f9d4e"/>
<circle cx="665.0" cy="254.9" r="1.3" fill="#2f9d4e"/>
<circle cx="621.1" cy="244.5" r="1.3" fill="#2f9d4e"/>
<circle cx="654.3" cy="239.8" r="1.3" fill="#2f9d4e"/>
<circle cx="617.3" cy="230.9" r="1.3" fill="#2f9d4e"/>
<circle cx="578.7" cy="226.0" r="1.3" fill="#2f9d4e"/>
<circle cx="725.8" cy="257.2" r="1.3" fill="#2f9d4e"/>
<circle cx="631.8" cy="233.9" r="1.3" fill="#2f9d4e"/>
<circle cx="662.2" cy="252.4" r="1.3" fill="#2f9d4e"/>
<circle cx="701.8" cy="242.8" r="1.3" fill="#2f9d4e"/>
<circle cx="590.2" cy="239.3" r="1.3" fill="#2f9d4e"/>
<circle cx="645.1" cy="247.9" r="1.3" fill="#2f9d4e"/>
<circle cx="627.1" cy="246.4" r="1.3" fill="#2f9d4e"/>
<circle cx="646.9" cy="239.4" r="1.3" fill="#2f9d4e"/>
<circle cx="624.5" cy="242.5" r="1.3" fill="#2f9d4e"/>
<circle cx="691.5" cy="253.9" r="1.3" fill="#2f9d4e"/>
<circle cx="673.6" cy="252.6" r="1.3" fill="#2f9d4e"/>
<circle cx="611.5" cy="235.5" r="1.3" fill="#2f9d4e"/>
<circle cx="671.3" cy="248.3" r="1.3" fill="#2f9d4e"/>
<circle cx="606.6" cy="238.1" r="1.3" fill="#2f9d4e"/>
<circle cx="641.0" cy="249.3" r="1.3" fill="#2f9d4e"/>
<circle cx="706.9" cy="256.5" r="1.3" fill="#2f9d4e"/>
<circle cx="649.9" cy="244.1" r="1.3" fill="#2f9d4e"/>
<circle cx="717.9" cy="254.1" r="1.3" fill="#2f9d4e"/>
<circle cx="678.0" cy="252.4" r="1.3" fill="#2f9d4e"/>
<circle cx="684.3" cy="241.0" r="1.3" fill="#2f9d4e"/>
<circle cx="673.8" cy="245.0" r="1.3" fill="#2f9d4e"/>
<circle cx="570.5" cy="225.5" r="1.3" fill="#2f9d4e"/>
<circle cx="637.5" cy="241.9" r="1.3" fill="#2f9d4e"/>
<circle cx="601.5" cy="237.7" r="1.3" fill="#2f9d4e"/>
<circle cx="574.8" cy="225.3" r="1.3" fill="#2f9d4e"/>
<circle cx="597.3" cy="225.9" r="1.3" fill="#2f9d4e"/>
<circle cx="665.1" cy="247.5" r="1.3" fill="#2f9d4e"/>
<circle cx="604.5" cy="241.9" r="1.3" fill="#2f9d4e"/>
<circle cx="660.1" cy="255.1" r="1.3" fill="#2f9d4e"/>
<circle cx="697.7" cy="253.6" r="1.3" fill="#2f9d4e"/>
<circle cx="721.1" cy="265.9" r="1.3" fill="#2f9d4e"/>
<circle cx="664.6" cy="242.1" r="1.3" fill="#2f9d4e"/>
<circle cx="723.5" cy="253.2" r="1.3" fill="#2f9d4e"/>
<circle cx="637.8" cy="235.7" r="1.3" fill="#2f9d4e"/>
<circle cx="692.6" cy="257.0" r="1.3" fill="#2f9d4e"/>
<circle cx="609.4" cy="229.5" r="1.3" fill="#2f9d4e"/>
<circle cx="686.7" cy="250.8" r="1.3" fill="#2f9d4e"/>
<circle cx="709.8" cy="253.9" r="1.3" fill="#2f9d4e"/>
<circle cx="644.1" cy="251.9" r="1.3" fill="#2f9d4e"/>
<circle cx="628.4" cy="236.2" r="1.3" fill="#2f9d4e"/>
<circle cx="678.5" cy="246.0" r="1.3" fill="#2f9d4e"/>
<circle cx="643.5" cy="243.7" r="1.3" fill="#2f9d4e"/>
<circle cx="590.9" cy="234.8" r="1.3" fill="#2f9d4e"/>
<circle cx="670.6" cy="256.5" r="1.3" fill="#2f9d4e"/>
<circle cx="659.2" cy="250.1" r="1.3" fill="#2f9d4e"/>
<circle cx="708.3" cy="244.3" r="1.3" fill="#2f9d4e"/>
<circle cx="647.9" cy="252.4" r="1.3" fill="#2f9d4e"/>
<circle cx="649.8" cy="235.1" r="1.3" fill="#2f9d4e"/>
<circle cx="604.0" cy="232.5" r="1.3" fill="#2f9d4e"/>
<circle cx="681.6" cy="251.5" r="1.3" fill="#2f9d4e"/>
<circle cx="579.8" cy="235.2" r="1.3" fill="#2f9d4e"/>
<circle cx="662.2" cy="239.2" r="1.3" fill="#2f9d4e"/>
<circle cx="618.4" cy="241.9" r="1.3" fill="#2f9d4e"/>
<circle cx="723.6" cy="259.6" r="1.3" fill="#2f9d4e"/>
<circle cx="628.5" cy="231.7" r="1.3" fill="#2f9d4e"/>
<circle cx="704.0" cy="252.0" r="1.3" fill="#2f9d4e"/>
<circle cx="685.9" cy="246.3" r="1.3" fill="#2f9d4e"/>
<circle cx="581.7" cy="224.3" r="1.3" fill="#2f9d4e"/>
<circle cx="689.2" cy="237.9" r="1.3" fill="#2f9d4e"/>
<circle cx="641.4" cy="233.3" r="1.3" fill="#2f9d4e"/>
<circle cx="592.2" cy="229.7" r="1.3" fill="#2f9d4e"/>
<circle cx="603.3" cy="227.3" r="1.3" fill="#2f9d4e"/>
<circle cx="631.0" cy="246.7" r="1.3" fill="#2f9d4e"/>
<circle cx="632.4" cy="230.6" r="1.3" fill="#2f9d4e"/>
<circle cx="654.8" cy="255.1" r="1.3" fill="#2f9d4e"/>
<circle cx="717.6" cy="244.6" r="1.3" fill="#2f9d4e"/>
<circle cx="607.4" cy="233.6" r="1.3" fill="#2f9d4e"/>
<circle cx="595.1" cy="233.9" r="1.3" fill="#2f9d4e"/>
<circle cx="631.2" cy="239.0" r="1.3" fill="#2f9d4e"/>
<circle cx="583.5" cy="233.3" r="1.3" fill="#2f9d4e"/>
<circle cx="715.3" cy="256.3" r="1.3" fill="#2f9d4e"/>
<circle cx="704.8" cy="245.4" r="1.3" fill="#2f9d4e"/>
<circle cx="584.7" cy="229.4" r="1.3" fill="#2f9d4e"/>
<circle cx="698.7" cy="246.4" r="1.3" fill="#2f9d4e"/>
<circle cx="705.3" cy="262.0" r="1.3" fill="#2f9d4e"/>
<circle cx="619.5" cy="228.3" r="1.3" fill="#2f9d4e"/>
<circle cx="714.2" cy="253.0" r="1.3" fill="#2f9d4e"/>
<circle cx="695.1" cy="246.1" r="1.3" fill="#2f9d4e"/>
<circle cx="616.6" cy="234.4" r="1.3" fill="#2f9d4e"/>
<circle cx="681.7" cy="243.7" r="1.3" fill="#2f9d4e"/>
<circle cx="716.5" cy="249.3" r="1.3" fill="#2f9d4e"/>
<circle cx="599.8" cy="234.5" r="1.3" fill="#2f9d4e"/>
<circle cx="576.2" cy="233.0" r="1.3" fill="#2f9d4e"/>
<circle cx="700.5" cy="259.4" r="1.3" fill="#2f9d4e"/>
<circle cx="634.9" cy="239.4" r="1.3" fill="#2f9d4e"/>
<circle cx="722.6" cy="248.7" r="1.3" fill="#2f9d4e"/>
<circle cx="613.9" cy="229.4" r="1.3" fill="#2f9d4e"/>
<circle cx="574.2" cy="230.3" r="1.3" fill="#2f9d4e"/>
<circle cx="697.3" cy="239.2" r="1.3" fill="#2f9d4e"/>
<circle cx="690.1" cy="246.1" r="1.3" fill="#2f9d4e"/>
<circle cx="640.2" cy="239.5" r="1.3" fill="#2f9d4e"/>
<circle cx="629.6" cy="243.1" r="1.3" fill="#2f9d4e"/>
<circle cx="669.0" cy="235.7" r="1.3" fill="#2f9d4e"/>
<circle cx="634.4" cy="247.1" r="1.3" fill="#2f9d4e"/>
<circle cx="727.1" cy="250.3" r="1.3" fill="#2f9d4e"/>
<circle cx="674.0" cy="238.4" r="1.3" fill="#2f9d4e"/>
<circle cx="711.4" cy="261.9" r="1.3" fill="#2f9d4e"/>
<circle cx="670.2" cy="243.5" r="1.3" fill="#2f9d4e"/>
<circle cx="681.5" cy="257.8" r="1.3" fill="#2f9d4e"/>
<circle cx="655.4" cy="251.6" r="1.3" fill="#2f9d4e"/>
<circle cx="588.4" cy="230.5" r="1.3" fill="#2f9d4e"/>
<circle cx="708.0" cy="251.1" r="1.3" fill="#2f9d4e"/>
<circle cx="640.6" cy="245.5" r="1.3" fill="#2f9d4e"/>
<circle cx="710.5" cy="258.0" r="1.3" fill="#2f9d4e"/>
<circle cx="653.1" cy="234.5" r="1.3" fill="#2f9d4e"/>
<circle cx="659.0" cy="244.6" r="1.3" fill="#2f9d4e"/>
<circle cx="620.5" cy="238.6" r="1.3" fill="#2f9d4e"/>
<circle cx="684.0" cy="237.1" r="1.3" fill="#2f9d4e"/>
<circle cx="646.1" cy="231.7" r="1.3" fill="#2f9d4e"/>
<circle cx="677.7" cy="241.0" r="1.3" fill="#2f9d4e"/>
<circle cx="702.1" cy="248.2" r="1.3" fill="#2f9d4e"/>
<circle cx="682.6" cy="247.9" r="1.3" fill="#2f9d4e"/>
<circle cx="684.2" cy="253.6" r="1.3" fill="#2f9d4e"/>
<circle cx="585.5" cy="225.5" r="1.3" fill="#2f9d4e"/>
<circle cx="721.3" cy="262.2" r="1.3" fill="#2f9d4e"/>
<circle cx="614.4" cy="241.6" r="1.3" fill="#2f9d4e"/>
<circle cx="650.9" cy="238.3" r="1.3" fill="#2f9d4e"/>
<circle cx="690.1" cy="250.2" r="1.3" fill="#2f9d4e"/>
<circle cx="645.8" cy="235.4" r="1.3" fill="#2f9d4e"/>
<circle cx="585.9" cy="240.8" r="1.3" fill="#2f9d4e"/>
<circle cx="659.3" cy="236.0" r="1.3" fill="#2f9d4e"/>
<circle cx="587.2" cy="237.0" r="1.3" fill="#2f9d4e"/>
<circle cx="637.1" cy="231.8" r="1.3" fill="#2f9d4e"/>
<circle cx="728.0" cy="268.0" r="1.3" fill="#2f9d4e"/>
<circle cx="701.0" cy="254.3" r="1.3" fill="#2f9d4e"/>
<circle cx="719.5" cy="250.9" r="1.3" fill="#2f9d4e"/>
<circle cx="669.4" cy="239.3" r="1.3" fill="#2f9d4e"/>
<circle cx="596.7" cy="230.7" r="1.3" fill="#2f9d4e"/>
<circle cx="656.6" cy="234.0" r="1.3" fill="#2f9d4e"/>
<circle cx="584.7" cy="247.8" r="1.3" fill="#2f9d4e"/>
<circle cx="574.3" cy="239.1" r="1.3" fill="#2f9d4e"/>
<circle cx="568.9" cy="237.7" r="1.3" fill="#2f9d4e"/>
<circle cx="574.4" cy="240.6" r="1.3" fill="#2f9d4e"/>
<circle cx="570.3" cy="236.4" r="1.3" fill="#2f9d4e"/>
<circle cx="578.7" cy="239.9" r="1.3" fill="#2f9d4e"/>
<circle cx="567.3" cy="233.8" r="1.3" fill="#2f9d4e"/>
<circle cx="563.2" cy="235.2" r="1.3" fill="#2f9d4e"/>
<circle cx="566.4" cy="236.2" r="1.3" fill="#2f9d4e"/>
<circle cx="558.5" cy="232.9" r="1.3" fill="#2f9d4e"/>
<circle cx="571.1" cy="238.9" r="1.3" fill="#2f9d4e"/>
<circle cx="560.2" cy="231.9" r="1.3" fill="#2f9d4e"/>
<circle cx="581.4" cy="242.0" r="1.3" fill="#2f9d4e"/>
<circle cx="559.8" cy="230.4" r="1.3" fill="#2f9d4e"/>
<circle cx="580.1" cy="244.1" r="1.3" fill="#2f9d4e"/>
<circle cx="558.9" cy="229.5" r="1.3" fill="#2f9d4e"/>
<circle cx="584.5" cy="243.8" r="1.3" fill="#2f9d4e"/>
<circle cx="559.6" cy="233.2" r="1.3" fill="#2f9d4e"/>
<circle cx="581.6" cy="243.1" r="1.3" fill="#2f9d4e"/>
<circle cx="577.9" cy="242.9" r="1.3" fill="#2f9d4e"/>
<circle cx="582.1" cy="241.9" r="1.3" fill="#2f9d4e"/>
<circle cx="578.9" cy="244.5" r="1.3" fill="#2f9d4e"/>
<ellipse cx="264" cy="366" rx="7.2" ry="6.6" fill="#f3ebc8" stroke="#e2b984" stroke-width="1.5"/><circle cx="264.0" cy="366.0" r="1.35" fill="#2e9a4c"/><circle cx="267.5" cy="364.2" r="1.35" fill="#2e9a4c"/><circle cx="267.3" cy="368.1" r="1.35" fill="#2e9a4c"/><circle cx="264.6" cy="369.6" r="1.35" fill="#2e9a4c"/><circle cx="261.4" cy="368.7" r="1.35" fill="#2e9a4c"/><circle cx="260.2" cy="365.1" r="1.35" fill="#2e9a4c"/><circle cx="264.0" cy="362.4" r="1.35" fill="#2e9a4c"/><circle cx="264.7" cy="367.5" r="1.35" fill="#2e9a4c"/>
<ellipse cx="280.5" cy="348.3" rx="7.2" ry="6.6" fill="#f3ebc8" stroke="#e2b984" stroke-width="1.5"/><circle cx="280.5" cy="348.3" r="1.35" fill="#2e9a4c"/><circle cx="281.8" cy="351.7" r="1.35" fill="#2e9a4c"/><circle cx="279.3" cy="351.7" r="1.35" fill="#2e9a4c"/><circle cx="276.6" cy="349.0" r="1.35" fill="#2e9a4c"/><circle cx="277.7" cy="345.8" r="1.35" fill="#2e9a4c"/><circle cx="281.4" cy="344.8" r="1.35" fill="#2e9a4c"/><circle cx="284.2" cy="347.1" r="1.35" fill="#2e9a4c"/><circle cx="281.8" cy="351.4" r="1.35" fill="#2e9a4c"/>
<ellipse cx="312.3" cy="328.5" rx="7.2" ry="6.6" fill="#f3ebc8" stroke="#e2b984" stroke-width="1.5"/><circle cx="312.3" cy="328.5" r="1.35" fill="#2e9a4c"/><circle cx="315.5" cy="330.6" r="1.35" fill="#2e9a4c"/><circle cx="310.8" cy="331.9" r="1.35" fill="#2e9a4c"/><circle cx="309.2" cy="330.8" r="1.35" fill="#2e9a4c"/><circle cx="309.5" cy="325.9" r="1.35" fill="#2e9a4c"/><circle cx="312.5" cy="324.9" r="1.35" fill="#2e9a4c"/><circle cx="315.9" cy="326.9" r="1.35" fill="#2e9a4c"/><circle cx="311.5" cy="330.4" r="1.35" fill="#2e9a4c"/>
<ellipse cx="339" cy="312.2" rx="7.2" ry="6.6" fill="#f3ebc8" stroke="#e2b984" stroke-width="1.5"/><circle cx="339.0" cy="312.2" r="1.35" fill="#2e9a4c"/><circle cx="342.4" cy="310.4" r="1.35" fill="#2e9a4c"/><circle cx="341.7" cy="314.8" r="1.35" fill="#2e9a4c"/><circle cx="339.8" cy="315.8" r="1.35" fill="#2e9a4c"/><circle cx="335.7" cy="314.3" r="1.35" fill="#2e9a4c"/><circle cx="336.1" cy="309.7" r="1.35" fill="#2e9a4c"/><circle cx="338.3" cy="308.6" r="1.35" fill="#2e9a4c"/><circle cx="339.6" cy="313.7" r="1.35" fill="#2e9a4c"/>
<ellipse cx="370" cy="297.6" rx="7.2" ry="6.6" fill="#f3ebc8" stroke="#e2b984" stroke-width="1.5"/><circle cx="370.0" cy="297.6" r="1.35" fill="#2e9a4c"/><circle cx="366.6" cy="295.8" r="1.35" fill="#2e9a4c"/><circle cx="371.3" cy="294.2" r="1.35" fill="#2e9a4c"/><circle cx="374.0" cy="297.6" r="1.35" fill="#2e9a4c"/><circle cx="373.2" cy="299.7" r="1.35" fill="#2e9a4c"/><circle cx="370.0" cy="301.2" r="1.35" fill="#2e9a4c"/><circle cx="366.0" cy="297.6" r="1.35" fill="#2e9a4c"/><circle cx="368.5" cy="299.5" r="1.35" fill="#2e9a4c"/>
<ellipse cx="432.2" cy="274.6" rx="7.2" ry="6.6" fill="#f3ebc8" stroke="#e2b984" stroke-width="1.5"/><circle cx="432.2" cy="274.6" r="1.35" fill="#2e9a4c"/><circle cx="428.2" cy="274.7" r="1.35" fill="#2e9a4c"/><circle cx="430.7" cy="271.3" r="1.35" fill="#2e9a4c"/><circle cx="432.9" cy="271.0" r="1.35" fill="#2e9a4c"/><circle cx="436.2" cy="274.5" r="1.35" fill="#2e9a4c"/><circle cx="435.3" cy="276.9" r="1.35" fill="#2e9a4c"/><circle cx="430.5" cy="277.9" r="1.35" fill="#2e9a4c"/><circle cx="431.7" cy="277.7" r="1.35" fill="#2e9a4c"/>
<ellipse cx="466.5" cy="265.5" rx="7.2" ry="6.6" fill="#f3ebc8" stroke="#e2b984" stroke-width="1.5"/><circle cx="466.5" cy="265.5" r="1.35" fill="#2e9a4c"/><circle cx="470.4" cy="266.2" r="1.35" fill="#2e9a4c"/><circle cx="468.4" cy="268.7" r="1.35" fill="#2e9a4c"/><circle cx="463.8" cy="268.2" r="1.35" fill="#2e9a4c"/><circle cx="462.8" cy="264.2" r="1.35" fill="#2e9a4c"/><circle cx="465.0" cy="262.1" r="1.35" fill="#2e9a4c"/><circle cx="469.9" cy="263.6" r="1.35" fill="#2e9a4c"/><circle cx="467.5" cy="267.9" r="1.35" fill="#2e9a4c"/>
<ellipse cx="504.4" cy="262.4" rx="7.2" ry="6.6" fill="#f3ebc8" stroke="#e2b984" stroke-width="1.5"/><circle cx="504.4" cy="262.4" r="1.35" fill="#2e9a4c"/><circle cx="500.8" cy="260.8" r="1.35" fill="#2e9a4c"/><circle cx="505.0" cy="258.8" r="1.35" fill="#2e9a4c"/><circle cx="508.2" cy="261.4" r="1.35" fill="#2e9a4c"/><circle cx="506.8" cy="265.3" r="1.35" fill="#2e9a4c"/><circle cx="504.6" cy="266.0" r="1.35" fill="#2e9a4c"/><circle cx="500.7" cy="263.7" r="1.35" fill="#2e9a4c"/><circle cx="503.9" cy="263.8" r="1.35" fill="#2e9a4c"/>
<ellipse cx="535.5" cy="256.6" rx="7.2" ry="6.6" fill="#f3ebc8" stroke="#e2b984" stroke-width="1.5"/><circle cx="535.5" cy="256.6" r="1.35" fill="#2e9a4c"/><circle cx="539.3" cy="255.4" r="1.35" fill="#2e9a4c"/><circle cx="538.5" cy="258.9" r="1.35" fill="#2e9a4c"/><circle cx="535.1" cy="260.2" r="1.35" fill="#2e9a4c"/><circle cx="532.5" cy="259.0" r="1.35" fill="#2e9a4c"/><circle cx="532.7" cy="254.1" r="1.35" fill="#2e9a4c"/><circle cx="535.2" cy="253.0" r="1.35" fill="#2e9a4c"/><circle cx="535.7" cy="257.5" r="1.35" fill="#2e9a4c"/>
<ellipse cx="561.8" cy="250" rx="7.2" ry="6.6" fill="#f3ebc8" stroke="#e2b984" stroke-width="1.5"/><circle cx="561.8" cy="250.0" r="1.35" fill="#2e9a4c"/><circle cx="557.9" cy="250.6" r="1.35" fill="#2e9a4c"/><circle cx="558.9" cy="247.6" r="1.35" fill="#2e9a4c"/><circle cx="564.1" cy="247.1" r="1.35" fill="#2e9a4c"/><circle cx="565.7" cy="249.7" r="1.35" fill="#2e9a4c"/><circle cx="563.5" cy="253.3" r="1.35" fill="#2e9a4c"/><circle cx="561.3" cy="253.6" r="1.35" fill="#2e9a4c"/><circle cx="562.4" cy="250.8" r="1.35" fill="#2e9a4c"/>
<ellipse cx="400" cy="284" rx="7.2" ry="6.6" fill="#f3ebc8" stroke="#e2b984" stroke-width="1.5"/><circle cx="400.0" cy="284.0" r="1.35" fill="#2e9a4c"/><circle cx="403.7" cy="282.8" r="1.35" fill="#2e9a4c"/><circle cx="402.8" cy="286.6" r="1.35" fill="#2e9a4c"/><circle cx="400.8" cy="287.6" r="1.35" fill="#2e9a4c"/><circle cx="397.1" cy="286.4" r="1.35" fill="#2e9a4c"/><circle cx="396.5" cy="282.3" r="1.35" fill="#2e9a4c"/><circle cx="400.4" cy="280.4" r="1.35" fill="#2e9a4c"/><circle cx="399.6" cy="285.0" r="1.35" fill="#2e9a4c"/>
<line x1="262" y1="198" x2="276.5" y2="225.5" stroke="#dcc08e" stroke-width="6.4" stroke-linecap="round"/>
<line x1="262" y1="198" x2="276.5" y2="225.5" stroke="#f0dfbb" stroke-width="4.4" stroke-dasharray="1.6 1.0"/>
<line x1="357.5" y1="197" x2="366" y2="227" stroke="#dcc08e" stroke-width="6.4" stroke-linecap="round"/>
<line x1="357.5" y1="197" x2="366" y2="227" stroke="#f0dfbb" stroke-width="4.4" stroke-dasharray="1.6 1.0"/>
<line x1="446.8" y1="206.8" x2="466.8" y2="226.8" stroke="#dcc08e" stroke-width="6.4" stroke-linecap="round"/>
<line x1="446.8" y1="206.8" x2="466.8" y2="226.8" stroke="#f0dfbb" stroke-width="4.4" stroke-dasharray="1.6 1.0"/>
<line x1="565" y1="221" x2="588" y2="244" stroke="#dcc08e" stroke-width="6.4" stroke-linecap="round"/>
<line x1="565" y1="221" x2="588" y2="244" stroke="#f0dfbb" stroke-width="4.4" stroke-dasharray="1.6 1.0"/>
<path d="M178.0,265.4 L183.1,261.1 L188.1,256.9 L193.1,252.8 L198.1,248.8 L203.1,244.9 L208.1,241.0 L213.1,237.3 L218.1,233.6 L223.2,230.0 L228.2,226.5 L233.2,223.1 L238.2,219.7 L243.2,216.5 L248.2,213.2 L253.3,210.1 L258.3,207.0 L263.3,204.0 L268.3,201.1 L273.3,198.2 L278.4,195.4 L283.4,192.7 L288.4,190.0 L293.4,187.4 L298.4,184.9 L303.5,182.4 L308.5,179.9 L313.5,177.6 L318.5,175.2 L323.5,173.0 L328.6,170.8 L333.6,168.6 L338.6,166.5 L343.6,164.5 L348.7,162.5 L353.7,160.6 L358.7,158.7 L363.7,156.9 L368.8,155.1 L373.8,153.4 L378.8,151.7 L383.8,150.1 L388.9,148.5 L393.9,147.0 L398.9,145.5 L404.0,144.1 L409.0,142.7 L414.0,141.4 L419.0,140.1 L424.1,138.9 L429.1,137.7 L434.1,136.6 L439.2,135.5 L444.2,134.4 L449.2,133.4 L454.3,132.5 L459.3,131.5 L464.3,130.7 L469.4,129.9 L474.4,129.1 L479.4,128.4 L484.5,127.7 L489.5,127.0 L494.5,126.4 L499.6,125.9 L504.6,125.4 L509.6,124.9 L514.7,124.5 L519.7,124.1 L524.7,123.8 L529.8,123.5 L534.8,123.2 L539.9,123.0 L544.9,122.9 L549.9,122.8 L555.0,122.7 L560.0,122.7 L565.1,122.7 L570.1,122.7 L575.1,122.8 L580.2,123.0 L585.2,123.2 L590.3,123.4 L595.3,123.7 L600.3,124.0 L605.4,124.4 L610.4,124.8 L615.5,125.2 L620.5,125.7 L625.6,126.3 L630.6,126.8 L635.7,127.5 L640.7,128.1 L645.7,128.9 L650.8,129.6 L655.8,130.4 L660.9,131.3 L665.9,132.2 L671.0,133.1 L676.0,134.1 L681.1,135.2 L686.1,136.3 L691.2,137.4 L688.8,147.5 L683.9,146.4 L678.9,145.3 L674.0,144.2 L669.0,143.2 L664.1,142.2 L659.1,141.3 L654.2,140.4 L649.2,139.6 L644.3,138.8 L639.3,138.0 L634.3,137.3 L629.4,136.7 L624.4,136.0 L619.5,135.5 L614.5,134.9 L609.6,134.4 L604.6,134.0 L599.7,133.6 L594.7,133.2 L589.7,132.9 L584.8,132.7 L579.8,132.4 L574.9,132.2 L569.9,132.1 L564.9,132.0 L560.0,131.9 L555.0,131.9 L550.1,132.0 L545.1,132.0 L540.1,132.1 L535.2,132.3 L530.2,132.5 L525.3,132.7 L520.3,133.0 L515.3,133.4 L510.4,133.7 L505.4,134.1 L500.4,134.6 L495.5,135.1 L490.5,135.6 L485.5,136.2 L480.6,136.9 L475.6,137.5 L470.6,138.3 L465.7,139.0 L460.7,139.8 L455.7,140.7 L450.8,141.6 L445.8,142.5 L440.8,143.5 L435.9,144.6 L430.9,145.6 L425.9,146.8 L421.0,148.0 L416.0,149.2 L411.0,150.4 L406.0,151.8 L401.1,153.1 L396.1,154.5 L391.1,156.0 L386.2,157.5 L381.2,159.1 L376.2,160.7 L371.2,162.3 L366.3,164.0 L361.3,165.8 L356.3,167.6 L351.3,169.5 L346.4,171.4 L341.4,173.4 L336.4,175.4 L331.4,177.5 L326.5,179.6 L321.5,181.8 L316.5,184.1 L311.5,186.4 L306.5,188.7 L301.6,191.2 L296.6,193.6 L291.6,196.2 L286.6,198.8 L281.6,201.5 L276.7,204.2 L271.7,207.0 L266.7,209.8 L261.7,212.8 L256.7,215.8 L251.8,218.8 L246.8,222.0 L241.8,225.2 L236.8,228.5 L231.8,231.8 L226.8,235.3 L221.9,238.8 L216.9,242.4 L211.9,246.1 L206.9,249.8 L201.9,253.7 L196.9,257.6 L191.9,261.6 L186.9,265.7 L182.0,270.0 Z" fill="url(#arrowg)"/>
<path d="M219.0,116.3 C219.1,118.3 218.2,124.9 219.6,128.6 C221.0,132.3 224.7,136.7 227.7,138.3 C230.7,139.9 233.6,139.9 237.4,138.3 C241.2,136.7 246.1,131.6 250.4,128.6 C254.7,125.6 259.6,122.2 263.4,120.5 C267.2,118.8 269.3,118.5 273.1,118.2 C276.9,117.9 281.9,117.7 286.0,118.9 C290.1,120.1 295.0,122.3 297.4,125.3 C299.8,128.3 300.6,133.4 300.6,136.7 C300.6,139.9 299.8,142.8 297.4,144.8 C295.0,146.8 291.1,147.9 286.0,148.7 C280.9,149.5 272.5,148.9 266.6,149.6 C260.7,150.3 253.9,150.5 250.4,152.9 C246.9,155.3 246.0,160.1 245.5,164.2 C245.0,168.2 245.8,173.1 247.2,177.2 C248.5,181.2 251.1,185.0 253.6,188.5 C256.1,192.0 260.6,196.4 262.0,198.0" fill="none" stroke="#6a5aa8" stroke-width="3.2" opacity="0.22"/>
<path d="M329.1,92.6 C331.0,92.3 336.8,90.5 340.2,90.6 C343.6,90.7 347.0,91.5 349.4,93.1 C351.8,94.7 353.0,97.3 354.4,100.2 C355.8,103.1 356.5,106.9 357.5,110.3 C358.5,113.7 359.6,117.3 360.5,120.4 C361.4,123.5 363.0,126.4 362.9,129.1 C362.8,131.8 362.4,133.7 360.1,136.4 C357.8,139.1 352.4,142.8 349.2,145.5 C346.0,148.2 342.2,150.1 341.0,152.8 C339.8,155.6 340.5,159.3 341.9,162.0 C343.3,164.7 347.1,167.1 349.2,169.2 C351.3,171.3 353.5,172.3 354.7,174.7 C355.9,177.1 356.1,180.1 356.5,183.8 C356.9,187.5 357.2,194.8 357.4,197.0" fill="none" stroke="#6a5aa8" stroke-width="3.2" opacity="0.22"/>
<path d="M438.4,96.6 C439.3,98.0 439.7,101.8 443.8,104.8 C447.9,107.8 455.1,110.9 462.8,114.3 C470.5,117.7 484.0,121.7 490.0,125.1 C496.0,128.5 498.2,131.8 499.0,134.6 C499.8,137.4 499.1,139.5 494.7,141.9 C490.3,144.3 482.6,147.1 472.9,149.2 C463.2,151.3 445.5,152.3 436.4,154.7 C427.3,157.1 422.2,160.4 418.2,163.8 C414.2,167.2 412.6,171.5 412.3,175.0 C412.1,178.5 414.5,181.8 416.7,185.0 C418.9,188.2 422.1,191.4 425.6,194.5 C429.1,197.6 434.5,201.6 437.9,203.5 C441.3,205.4 444.6,205.6 446.0,206.0" fill="none" stroke="#6a5aa8" stroke-width="3.2" opacity="0.22"/>
<path d="M523.9,92.0 C525.2,93.5 530.2,97.0 532.0,100.7 C533.8,104.4 534.5,109.3 534.7,114.3 C534.9,119.3 532.2,124.4 533.4,130.6 C534.6,136.8 540.8,145.3 542.0,151.6 C543.2,157.9 541.2,163.3 540.8,168.6 C540.4,173.9 538.0,177.5 539.6,183.2 C541.2,188.9 547.3,197.6 550.5,202.6 C553.7,207.6 556.6,209.9 559.0,213.0 C561.4,216.1 564.0,219.7 565.0,221.0" fill="none" stroke="#6a5aa8" stroke-width="3.2" opacity="0.22"/>
<path d="M693.2,132.3 L704.5,146 L686.9,151 Z" fill="#e83c28"/>
<path d="M273,227 C281,220 296,227 298,241 C300,251 299,259 297,265 C287,263 275,257 271,247 C268,239 268,232 273,227 Z" fill="url(#headg)" stroke="#9d8ccb" stroke-width="1.1"/>
<path d="M362.5,232 C366,225 379,225 382,233 C384.5,241 382,252 375,257 C368,257 362,251 360.5,243 C360,238 361,234 362.5,232 Z" fill="url(#headg)" stroke="#a08fcc" stroke-width="1"/>
<path d="M469,228 C474,222 488,224 492,232 C495,238 496,244 494,249 C486,249 474,248 469,242 C466,237 466,232 469,228 Z" fill="url(#headg2)" stroke="#8d78bf" stroke-width="1"/>
<ellipse cx="601.5" cy="252" rx="14" ry="9.5" transform="rotate(38 601.5 252)" fill="url(#headg2)" stroke="#8d78bf" stroke-width="1"/>
<circle cx="368.9" cy="261.8" r="0.95" fill="#8c7cc0"/>
<circle cx="383.4" cy="266.4" r="0.95" fill="#8c7cc0"/>
<circle cx="382.7" cy="261.2" r="0.95" fill="#8c7cc0"/>
<circle cx="377.1" cy="260.1" r="0.95" fill="#8c7cc0"/>
<circle cx="366.5" cy="259.4" r="0.95" fill="#8c7cc0"/>
<circle cx="381.1" cy="261.9" r="0.95" fill="#8c7cc0"/>
<circle cx="372.9" cy="257.3" r="0.95" fill="#8c7cc0"/>
<circle cx="374.4" cy="259.0" r="0.95" fill="#8c7cc0"/>
<circle cx="375.2" cy="262.7" r="0.95" fill="#8c7cc0"/>
<circle cx="360.3" cy="260.7" r="0.95" fill="#8c7cc0"/>
<circle cx="365.5" cy="257.8" r="0.95" fill="#8c7cc0"/>
<circle cx="367.0" cy="264.9" r="0.95" fill="#8c7cc0"/>
<circle cx="379.3" cy="262.7" r="0.95" fill="#8c7cc0"/>
<circle cx="370.2" cy="256.0" r="0.95" fill="#8c7cc0"/>
<circle cx="372.5" cy="261.7" r="0.95" fill="#8c7cc0"/>
<circle cx="374.5" cy="263.4" r="0.95" fill="#8c7cc0"/>
<circle cx="372.7" cy="267.3" r="0.95" fill="#8c7cc0"/>
<circle cx="379.2" cy="267.9" r="0.95" fill="#8c7cc0"/>
<circle cx="376.6" cy="260.2" r="0.95" fill="#8c7cc0"/>
<circle cx="369.5" cy="263.8" r="0.95" fill="#8c7cc0"/>
<circle cx="381.8" cy="261.5" r="0.95" fill="#8c7cc0"/>
<circle cx="377.6" cy="260.1" r="0.95" fill="#8c7cc0"/>
<circle cx="372.3" cy="260.0" r="0.95" fill="#8c7cc0"/>
<circle cx="362.8" cy="257.5" r="0.95" fill="#8c7cc0"/>
<circle cx="375.2" cy="261.4" r="0.95" fill="#8c7cc0"/>
<circle cx="382.0" cy="263.2" r="0.95" fill="#8c7cc0"/>
<circle cx="377.7" cy="261.2" r="0.95" fill="#8c7cc0"/>
<circle cx="360.4" cy="261.2" r="0.95" fill="#8c7cc0"/>
<circle cx="369.3" cy="262.7" r="0.95" fill="#8c7cc0"/>
<circle cx="373.1" cy="259.8" r="0.95" fill="#8c7cc0"/>
<circle cx="371.5" cy="260.0" r="0.95" fill="#8c7cc0"/>
<circle cx="362.3" cy="255.4" r="0.95" fill="#8c7cc0"/>
<circle cx="382.8" cy="262.5" r="0.95" fill="#8c7cc0"/>
<circle cx="372.1" cy="259.8" r="0.95" fill="#8c7cc0"/>
<circle cx="372.6" cy="272.3" r="0.95" fill="#8c7cc0"/>
<circle cx="378.3" cy="261.0" r="0.95" fill="#8c7cc0"/>
<circle cx="370.6" cy="252.7" r="0.95" fill="#8c7cc0"/>
<circle cx="375.7" cy="265.8" r="0.95" fill="#8c7cc0"/>
<circle cx="381.0" cy="261.9" r="0.95" fill="#8c7cc0"/>
<circle cx="371.0" cy="256.8" r="0.95" fill="#8c7cc0"/>
<circle cx="375.4" cy="259.5" r="0.95" fill="#8c7cc0"/>
<circle cx="367.6" cy="266.7" r="0.95" fill="#8c7cc0"/>
<circle cx="368.9" cy="259.1" r="0.95" fill="#8c7cc0"/>
<circle cx="359.5" cy="266.9" r="0.95" fill="#8c7cc0"/>
<circle cx="373.9" cy="260.7" r="0.95" fill="#8c7cc0"/>
<ellipse cx="567.7" cy="355.5" rx="17.5" ry="12.5" transform="rotate(-55 567.7 355.5)" fill="url(#disc)"/>
<ellipse cx="568.5" cy="358.2" rx="2.6" ry="3.4" transform="rotate(-30 568.5 358.2)" fill="#c27552"/>
<circle cx="664" cy="332.5" r="24.5" fill="url(#fusg)" stroke="#faf4ec" stroke-width="4"/>
<ellipse cx="668.7" cy="340.3" rx="15.5" ry="11.5" transform="rotate(-55 668.7 340.3)" fill="url(#disc)"/>
<ellipse cx="669.5" cy="342" rx="2.2" ry="3" transform="rotate(-30 669.5 342)" fill="#c27552"/>
<ellipse cx="655" cy="325.9" rx="11" ry="15.8" transform="rotate(25 655 325.9)" fill="url(#headg)"/>
<path d="M606.5,270 C609,290 620,303 635,310" stroke="#1c1a1a" stroke-width="2" fill="none"/>
<path d="M640.8,314 L631,315.5 L635.5,306.5 Z" fill="#1c1a1a"/>
<path d="M585.7,355.6 C595,363 605,365 618,364.5 C630,364 640,361 649,357" stroke="#1c1a1a" stroke-width="2" fill="none"/>
<path d="M655.6,354.6 L648.5,362.5 L645.5,354 Z" fill="#1c1a1a"/>
<circle cx="232.6" cy="162.6" r="8.3" fill="#1c1a1a"/><text x="232.6" y="167.2" text-anchor="middle" font-size="13.5" font-weight="bold" fill="#fff">1</text>
<circle cx="353.9" cy="251.8" r="8.3" fill="#1c1a1a"/><text x="353.9" y="256.40000000000003" text-anchor="middle" font-size="13.5" font-weight="bold" fill="#fff">2</text>
<circle cx="500.3" cy="224.4" r="8.3" fill="#1c1a1a"/><text x="500.3" y="229.0" text-anchor="middle" font-size="13.5" font-weight="bold" fill="#fff">3</text>
<circle cx="580.7" cy="263.9" r="8.3" fill="#1c1a1a"/><text x="580.7" y="268.5" text-anchor="middle" font-size="13.5" font-weight="bold" fill="#fff">4</text>
<circle cx="693.5" cy="245" r="8.3" fill="#1c1a1a"/><text x="693.5" y="249.6" text-anchor="middle" font-size="13.5" font-weight="bold" fill="#fff">5</text>
<line x1="270.5" y1="104" x2="270.5" y2="118" stroke="#1c1a1a" stroke-width="1.8" fill="none"/><circle cx="270.5" cy="118" r="2.4" fill="#1c1a1a"/>
<line x1="282.6" y1="199" x2="282.6" y2="244" stroke="#1c1a1a" stroke-width="1.8" fill="none"/><circle cx="282.6" cy="244.3" r="2.4" fill="#1c1a1a"/>
<line x1="230" y1="218.8" x2="251" y2="218.8" stroke="#1c1a1a" stroke-width="1.8" fill="none"/>
<path d="M254.6,198.2 L243.6,203.5 L259.1,233.7 L270,229.2" stroke="#1c1a1a" stroke-width="1.8" fill="none"/>
<line x1="214" y1="249.5" x2="262.8" y2="249.5" stroke="#1c1a1a" stroke-width="1.8" fill="none"/>
<path d="M267.3,233.7 L260,237 C260,252 266,265 278.3,270.2 C284,273 289,274 293.8,274.2 L293.8,268.4" stroke="#1c1a1a" stroke-width="1.8" fill="none"/>
<line x1="220.6" y1="278" x2="235.3" y2="278" stroke="#1c1a1a" stroke-width="1.8" fill="none"/><circle cx="235.3" cy="278" r="2.4" fill="#1c1a1a"/>
<line x1="293.9" y1="307.4" x2="293.9" y2="356" stroke="#1c1a1a" stroke-width="1.8" fill="none"/><circle cx="293.9" cy="307.4" r="2.4" fill="#1c1a1a"/>
<line x1="327.3" y1="302.2" x2="327.3" y2="331.5" stroke="#1c1a1a" stroke-width="1.8" fill="none"/><circle cx="327.3" cy="302.2" r="2.4" fill="#1c1a1a"/>
<line x1="432.4" y1="277.3" x2="432.4" y2="306.5" stroke="#1c1a1a" stroke-width="1.8" fill="none"/><circle cx="432.4" cy="277.3" r="2.4" fill="#1c1a1a"/>
<line x1="599.2" y1="260" x2="599.2" y2="296.8" stroke="#1c1a1a" stroke-width="1.8" fill="none"/><circle cx="599.2" cy="260" r="2.4" fill="#1c1a1a"/>
<line x1="663.8" y1="255.4" x2="663.8" y2="271.7" stroke="#1c1a1a" stroke-width="1.8" fill="none"/><circle cx="663.8" cy="255.4" r="2.4" fill="#1c1a1a"/>
<line x1="536.3" y1="353.2" x2="557.9" y2="353.2" stroke="#1c1a1a" stroke-width="1.8" fill="none"/><circle cx="557.9" cy="353.2" r="2.4" fill="#1c1a1a"/>
<text x="248.2" y="98.7" font-size="16.5" fill="#333" stroke="#333" stroke-width="0.35" textLength="43.8" lengthAdjust="spacingAndGlyphs">staart</text>
<text x="266.4" y="193.5" font-size="16.5" fill="#333" stroke="#333" stroke-width="0.35" textLength="32.1" lengthAdjust="spacingAndGlyphs">kern</text>
<text x="164.4" y="206.4" font-size="16.5" fill="#333" stroke="#333" stroke-width="0.35" textLength="61.9" lengthAdjust="spacingAndGlyphs">midden-</text>
<text x="195.5" y="224" font-size="16.5" fill="#333" stroke="#333" stroke-width="0.35" textLength="30.8" lengthAdjust="spacingAndGlyphs">stuk</text>
<text x="181.7" y="252.1" font-size="16.5" fill="#333" stroke="#333" stroke-width="0.35" textLength="26.7" lengthAdjust="spacingAndGlyphs">kop</text>
<text x="159.1" y="281.7" font-size="16.5" fill="#333" stroke="#333" stroke-width="0.35" textLength="56" lengthAdjust="spacingAndGlyphs">follikel-</text>
<text x="171.7" y="299.3" font-size="16.5" fill="#333" stroke="#333" stroke-width="0.35" textLength="42.8" lengthAdjust="spacingAndGlyphs">cellen</text>
<text x="308.9" y="348.3" font-size="16.5" fill="#3b2c22" stroke="#3b2c22" stroke-width="0.35" textLength="103.7" lengthAdjust="spacingAndGlyphs">celmembraan</text>
<text x="273.3" y="369.8" font-size="16.5" fill="#3b2c22" stroke="#3b2c22" stroke-width="0.35" textLength="107.3" lengthAdjust="spacingAndGlyphs">zona pellucida</text>
<text x="421.8" y="320.7" font-size="16.5" fill="#3b2c22" stroke="#3b2c22" stroke-width="0.35" textLength="51" lengthAdjust="spacingAndGlyphs">blaasje</text>
<text x="580.3" y="310.5" font-size="16.5" fill="#3b2c22" stroke="#3b2c22" stroke-width="0.35" textLength="32.9" lengthAdjust="spacingAndGlyphs">kern</text>
<text x="571" y="327.6" font-size="16.5" fill="#3b2c22" stroke="#3b2c22" stroke-width="0.35" textLength="54.8" lengthAdjust="spacingAndGlyphs">zaadcel</text>
<text x="460" y="357.4" font-size="16.5" fill="#3b2c22" stroke="#3b2c22" stroke-width="0.35" textLength="70.3" lengthAdjust="spacingAndGlyphs">kern eicel</text>
<text x="619.1" y="281.5" font-size="16.5" fill="#3b2c22" stroke="#3b2c22" stroke-width="0.35" textLength="107.7" lengthAdjust="spacingAndGlyphs">‘bevruchtings-</text>
<text x="630.2" y="298.5" font-size="16.5" fill="#3b2c22" stroke="#3b2c22" stroke-width="0.35" textLength="86.1" lengthAdjust="spacingAndGlyphs">membraan’</text>
<text x="742.5" y="115.85" font-size="16.5" font-weight="bold" fill="#333" stroke="#333" stroke-width="0.3">1</text>
<text x="755" y="115.85" font-size="16.5" fill="#333" stroke="#333" stroke-width="0.35" textLength="199.4" lengthAdjust="spacingAndGlyphs">zaadcel dringt door tussen</text>
<text x="755" y="132.45" font-size="16.5" fill="#333" stroke="#333" stroke-width="0.35" textLength="117" lengthAdjust="spacingAndGlyphs">de follikelcellen</text>
<text x="742.5" y="167.9" font-size="16.5" font-weight="bold" fill="#333" stroke="#333" stroke-width="0.3">2</text>
<text x="755" y="167.9" font-size="16.5" fill="#333" stroke="#333" stroke-width="0.35" textLength="203.6" lengthAdjust="spacingAndGlyphs">enzymen breken ter plekke</text>
<text x="755" y="184.7" font-size="16.5" fill="#333" stroke="#333" stroke-width="0.35" textLength="151" lengthAdjust="spacingAndGlyphs">de zona pellucida af</text>
<text x="742.5" y="220.9" font-size="16.5" font-weight="bold" fill="#333" stroke="#333" stroke-width="0.3">3</text>
<text x="755" y="220.9" font-size="16.5" fill="#333" stroke="#333" stroke-width="0.35" textLength="178.7" lengthAdjust="spacingAndGlyphs">zaadcel fuseert met het</text>
<text x="755" y="237.9" font-size="16.5" fill="#333" stroke="#333" stroke-width="0.35" textLength="176" lengthAdjust="spacingAndGlyphs">membraan van de eicel</text>
<text x="742.5" y="273.5" font-size="16.5" font-weight="bold" fill="#333" stroke="#333" stroke-width="0.3">4</text>
<text x="755" y="273.5" font-size="16.5" fill="#333" stroke="#333" stroke-width="0.35" textLength="169.7" lengthAdjust="spacingAndGlyphs">de kern van de zaadcel</text>
<text x="755" y="290.8" font-size="16.5" fill="#333" stroke="#333" stroke-width="0.35" textLength="185.2" lengthAdjust="spacingAndGlyphs">gaat het cytoplasma van</text>
<text x="755" y="308.2" font-size="16.5" fill="#333" stroke="#333" stroke-width="0.35" textLength="74.5" lengthAdjust="spacingAndGlyphs">de eicel in</text>
<text x="742.5" y="344.3" font-size="16.5" font-weight="bold" fill="#333" stroke="#333" stroke-width="0.3">5</text>
<text x="755" y="344.3" font-size="16.5" fill="#333" stroke="#333" stroke-width="0.35" textLength="206.2" lengthAdjust="spacingAndGlyphs">stoffen veranderen de zona</text>
<text x="755" y="361.3" font-size="16.5" fill="#333" stroke="#333" stroke-width="0.35" textLength="117.2" lengthAdjust="spacingAndGlyphs">pellucida in een</text>
<text x="755" y="378.3" font-size="16.5" fill="#333" stroke="#333" stroke-width="0.35" textLength="188.4" lengthAdjust="spacingAndGlyphs">‘bevruchtingsmembraan’</text>
<rect x="0" y="402" width="958" height="1" fill="#d8ecc8"/><rect x="0" y="403" width="958" height="1" fill="#8db47c"/>
<text x="12.3" y="428" font-size="15" font-weight="bold" fill="#333" textLength="45.2" lengthAdjust="spacingAndGlyphs">Bron 1</text>
<text x="70" y="428" font-size="15" fill="#333" stroke="#333" stroke-width="0.3" textLength="871" lengthAdjust="spacingAndGlyphs">Een eicel is omgeven door de zona pellucida en follikelcellen. Een spermacel (1) dringt door de zona pellucida heen (2 en 3).</text>
<text x="12.3" y="452.4" font-size="15" fill="#333" stroke="#333" stroke-width="0.3" textLength="890.9" lengthAdjust="spacingAndGlyphs">Zijn kern (4) versmelt met de kern van de eicel. Bij de bevruchting vormt zich een voor andere spermacellen ondoordringbare</text>
<text x="12.3" y="476.8" font-size="15" fill="#333" stroke="#333" stroke-width="0.3" textLength="583.3" lengthAdjust="spacingAndGlyphs">bevruchtingsmembraan aan de buitenzijde van het celmembraan van de eicel (5).</text>
</svg>
</body></html>
